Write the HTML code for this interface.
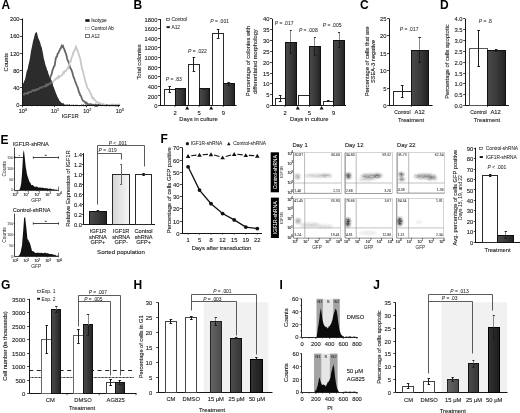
<!DOCTYPE html>
<html><head><meta charset="utf-8"><style>
html,body{margin:0;padding:0;background:#fff;}
svg{display:block;}
text{font-family:'Liberation Sans', Arial, sans-serif;}
</style></head><body>
<svg width="520" height="413" viewBox="0 0 520 413" font-family="'Liberation Sans', Arial, sans-serif">
<defs>
<linearGradient id="gd" x1="0" x2="1" y1="0" y2="0"><stop offset="0" stop-color="#4a4a4a"/><stop offset="0.5" stop-color="#3a3a3a"/><stop offset="1" stop-color="#222"/></linearGradient>
<linearGradient id="gl" x1="0" x2="1" y1="0" y2="0"><stop offset="0" stop-color="#d6d6d6"/><stop offset="1" stop-color="#f6f6f6"/></linearGradient>
<linearGradient id="g15" x1="0" x2="1"><stop offset="0" stop-color="#666"/><stop offset="1" stop-color="#4a4a4a"/></linearGradient>
<linearGradient id="g25" x1="0" x2="1"><stop offset="0" stop-color="#4d4d4d"/><stop offset="1" stop-color="#353535"/></linearGradient>
<linearGradient id="g50" x1="0" x2="1"><stop offset="0" stop-color="#333"/><stop offset="1" stop-color="#1c1c1c"/></linearGradient>
<filter id="bl1" x="-50%" y="-50%" width="200%" height="200%"><feGaussianBlur stdDeviation="1.2"/></filter>
<filter id="grain" x="-20%" y="-50%" width="140%" height="200%"><feGaussianBlur in="SourceGraphic" stdDeviation="1.1" result="b"/><feTurbulence type="fractalNoise" baseFrequency="0.8" numOctaves="1" seed="7" result="n"/><feColorMatrix in="n" type="matrix" values="0 0 0 0 0  0 0 0 0 0  0 0 0 0 0  2.0 0 0 0 -0.05" result="na"/><feComposite in="b" in2="na" operator="in"/></filter>
<filter id="bl2" x="-50%" y="-50%" width="200%" height="200%"><feGaussianBlur stdDeviation="0.8"/></filter>
</defs>
<rect width="520" height="413" fill="#fff"/>
<text x="1.5" y="8.6" font-size="12" font-weight="bold" fill="#000">A</text>
<path d="M44.00,104.50 L44.67,101.93 L45.33,99.95 L46.00,97.47 L46.67,94.27 L47.33,91.37 L48.00,88.10 L48.77,84.13 L49.53,81.67 L50.30,77.51 L51.03,75.30 L51.77,73.87 L52.50,70.27 L53.23,68.35 L53.97,66.36 L54.70,65.61 L55.60,59.19 L56.27,57.19 L56.95,56.75 L57.62,53.84 L58.30,53.25 L59.15,51.13 L60.00,49.54 L60.90,48.02 L61.80,45.73 L62.40,46.68 L63.00,46.06 L63.60,47.83 L64.45,49.62 L65.30,52.14 L66.20,54.27 L67.10,58.40 L67.75,60.67 L68.40,61.25 L69.05,63.64 L69.70,66.00 L70.38,68.20 L71.05,69.04 L71.73,70.71 L72.40,72.60 L73.05,75.19 L73.70,77.41 L74.35,78.83 L75.00,80.79 L75.67,82.58 L76.35,84.26 L77.03,86.12 L77.70,87.33 L78.35,89.75 L79.00,92.26 L79.65,93.11 L80.30,95.40 L80.97,95.81 L81.65,98.01 L82.33,99.46 L83.00,100.68 L83.63,100.93 L84.26,101.37 L84.89,102.13 L85.51,103.04 L86.14,102.34 L86.77,102.75 L87.40,104.30 L88.06,104.72 L88.71,104.24 L89.37,104.28 L90.03,104.88 L90.69,104.18 L91.34,104.47 L92.00,104.52 L92.62,105.15 L93.23,104.73 L93.85,104.62 L94.46,105.37 L95.08,105.80 L95.69,104.77 L96.31,105.44 L96.92,104.98 L97.54,105.70 L98.15,105.29 L98.77,104.80 L99.38,104.73 L100.00,105.20 " fill="none" stroke="#666" stroke-width="1.8" />
<path d="M22.50,94.44 L23.20,94.58 L23.90,94.76 L24.60,93.38 L25.30,93.48 L26.00,93.20 L26.67,93.85 L27.33,92.89 L28.00,93.39 L28.67,91.90 L29.33,91.96 L30.00,92.27 L30.67,92.44 L31.33,91.41 L32.00,90.76 L32.67,90.32 L33.33,90.80 L34.00,89.94 L34.67,90.80 L35.33,90.61 L36.00,89.18 L36.67,89.10 L37.33,89.80 L38.00,89.26 L38.70,89.25 L39.40,88.12 L40.10,87.43 L40.80,87.43 L41.50,88.03 L42.20,86.83 L42.90,86.70 L43.60,86.57 L44.30,86.32 L45.00,86.04 L45.62,86.56 L46.25,84.78 L46.88,84.11 L47.50,85.40 L48.12,84.88 L48.75,84.68 L49.38,83.28 L50.00,83.81 L50.63,83.44 L51.27,81.83 L51.90,82.44 L52.53,82.27 L53.17,81.63 L53.80,81.03 L54.40,80.12 L55.00,79.71 L55.60,79.01 L56.20,78.22 L56.80,78.66 L57.40,77.62 L58.00,78.06 L58.67,76.17 L59.34,77.20 L60.01,76.31 L60.69,76.21 L61.36,75.64 L62.03,75.13 L62.70,74.04 L63.36,72.34 L64.02,72.98 L64.68,71.27 L65.34,70.82 L66.00,70.79 L66.67,69.61 L67.33,68.48 L68.00,68.49 L68.67,66.34 L69.33,64.28 L70.00,62.55 L70.75,61.15 L71.50,57.96 L72.25,56.51 L73.00,53.73 L73.60,51.91 L74.20,50.96 L75.05,49.72 L75.90,46.81 L76.80,49.23 L77.70,50.76 L78.60,53.65 L79.50,56.78 L80.25,58.71 L81.00,63.23 L82.10,69.25 L82.77,70.44 L83.45,73.49 L84.12,76.13 L84.80,79.25 L85.65,81.96 L86.50,84.95 L87.40,87.90 L88.30,88.90 L89.03,90.40 L89.77,91.93 L90.50,93.32 L91.23,94.46 L91.97,97.32 L92.70,98.34 L93.47,97.89 L94.23,99.57 L95.00,100.17 L95.60,100.67 L96.20,101.23 L96.80,102.26 L97.40,102.66 L98.00,102.75 L98.67,102.71 L99.33,103.23 L100.00,103.12 L100.67,104.17 L101.33,104.72 L102.00,104.38 L102.60,103.90 L103.20,104.14 L103.80,104.55 L104.40,105.03 L105.00,105.41 L105.60,104.74 L106.20,105.56 L106.80,105.30 L107.40,105.02 L108.00,104.97 L108.60,105.19 L109.20,105.57 L109.80,105.06 L110.40,105.55 L111.00,105.13 L111.60,104.74 L112.20,105.26 L112.80,105.55 L113.40,104.43 L114.00,105.06 L114.60,105.07 L115.20,105.88 L115.80,105.99 L116.40,104.97 L117.00,105.92 L117.60,105.72 L118.20,104.77 L118.80,105.14 L119.40,104.52 L120.00,105.20 " fill="none" stroke="#c8c8c8" stroke-width="1.8" />
<path d="M22.4,105.2 L22.40,84.83 L23.50,83.08 L24.25,80.92 L25.00,79.49 L25.67,76.83 L26.33,73.12 L27.00,70.32 L27.67,69.14 L28.33,65.43 L29.00,62.72 L30.00,57.89 L31.00,51.05 L32.00,46.61 L33.10,41.06 L34.00,37.75 L35.10,33.37 L35.80,32.74 L36.50,31.66 L37.30,34.04 L38.10,37.53 L39.00,39.81 L40.10,42.32 L40.90,45.51 L41.70,47.16 L42.40,50.74 L43.10,54.36 L43.77,58.52 L44.43,60.48 L45.10,63.59 L45.77,65.88 L46.43,67.59 L47.10,69.96 L47.77,71.04 L48.43,73.81 L49.10,75.20 L49.80,77.75 L50.50,79.32 L51.20,79.58 L51.87,81.31 L52.53,83.12 L53.20,86.14 L53.87,87.19 L54.53,89.53 L55.20,90.94 L55.87,93.01 L56.53,94.49 L57.20,96.13 L57.90,97.65 L58.60,98.75 L59.30,100.43 L60.00,101.13 L60.65,102.12 L61.30,102.54 L61.95,103.33 L62.60,103.31 L63.28,102.65 L63.96,104.17 L64.64,104.62 L65.32,104.77 L66.00,104.42 L66.62,104.77 L67.25,103.96 L67.88,105.16 L68.50,104.78 L69.12,104.35 L69.75,104.04 L70.38,105.55 L71.00,105.88 L71.60,104.26 L72.21,105.55 L72.81,104.85 L73.42,104.38 L74.02,104.64 L74.63,105.50 L75.23,105.69 L75.84,104.20 L76.44,105.23 L77.05,104.21 L77.65,105.42 L78.26,104.73 L78.86,105.72 L79.47,105.90 L80.07,105.05 L80.68,105.94 L81.28,104.70 L81.89,104.28 L82.49,105.23 L83.10,104.21 L83.70,104.51 L84.31,104.89 L84.91,105.26 L85.52,104.44 L86.12,104.24 L86.73,105.73 L87.33,104.73 L87.94,105.89 L88.54,105.79 L89.15,104.85 L89.75,105.01 L90.36,105.12 L90.96,105.34 L91.57,105.26 L92.17,105.19 L92.78,105.31 L93.38,105.88 L93.99,105.11 L94.59,104.97 L95.20,105.50 L95.80,104.63 L96.41,104.75 L97.01,105.97 L97.62,105.15 L98.22,105.20 L98.83,104.23 L99.43,104.96 L100.04,105.26 L100.64,104.26 L101.25,105.33 L101.85,105.36 L102.46,104.34 L103.06,105.36 L103.67,105.07 L104.27,105.46 L104.88,104.87 L105.48,105.51 L106.09,105.57 L106.69,104.29 L107.30,104.36 L107.90,105.47 L108.51,105.99 L109.11,104.71 L109.72,105.08 L110.32,105.33 L110.93,104.84 L111.53,104.92 L112.14,104.83 L112.74,104.93 L113.35,105.34 L113.95,104.82 L114.56,104.96 L115.16,105.67 L115.77,104.33 L116.37,105.31 L116.98,105.61 L117.58,104.85 L118.19,104.69 L118.79,105.74 L119.40,104.73 L120.00,105.20  L22.4,105.2 Z" fill="#2c2c2c" />
<clipPath id="isoclip"><path d="M22.4,105.2 L22.40,84.83 L23.50,83.08 L24.25,80.92 L25.00,79.49 L25.67,76.83 L26.33,73.12 L27.00,70.32 L27.67,69.14 L28.33,65.43 L29.00,62.72 L30.00,57.89 L31.00,51.05 L32.00,46.61 L33.10,41.06 L34.00,37.75 L35.10,33.37 L35.80,32.74 L36.50,31.66 L37.30,34.04 L38.10,37.53 L39.00,39.81 L40.10,42.32 L40.90,45.51 L41.70,47.16 L42.40,50.74 L43.10,54.36 L43.77,58.52 L44.43,60.48 L45.10,63.59 L45.77,65.88 L46.43,67.59 L47.10,69.96 L47.77,71.04 L48.43,73.81 L49.10,75.20 L49.80,77.75 L50.50,79.32 L51.20,79.58 L51.87,81.31 L52.53,83.12 L53.20,86.14 L53.87,87.19 L54.53,89.53 L55.20,90.94 L55.87,93.01 L56.53,94.49 L57.20,96.13 L57.90,97.65 L58.60,98.75 L59.30,100.43 L60.00,101.13 L60.65,102.12 L61.30,102.54 L61.95,103.33 L62.60,103.31 L63.28,102.65 L63.96,104.17 L64.64,104.62 L65.32,104.77 L66.00,104.42 L66.62,104.77 L67.25,103.96 L67.88,105.16 L68.50,104.78 L69.12,104.35 L69.75,104.04 L70.38,105.55 L71.00,105.88 L71.60,104.26 L72.21,105.55 L72.81,104.85 L73.42,104.38 L74.02,104.64 L74.63,105.50 L75.23,105.69 L75.84,104.20 L76.44,105.23 L77.05,104.21 L77.65,105.42 L78.26,104.73 L78.86,105.72 L79.47,105.90 L80.07,105.05 L80.68,105.94 L81.28,104.70 L81.89,104.28 L82.49,105.23 L83.10,104.21 L83.70,104.51 L84.31,104.89 L84.91,105.26 L85.52,104.44 L86.12,104.24 L86.73,105.73 L87.33,104.73 L87.94,105.89 L88.54,105.79 L89.15,104.85 L89.75,105.01 L90.36,105.12 L90.96,105.34 L91.57,105.26 L92.17,105.19 L92.78,105.31 L93.38,105.88 L93.99,105.11 L94.59,104.97 L95.20,105.50 L95.80,104.63 L96.41,104.75 L97.01,105.97 L97.62,105.15 L98.22,105.20 L98.83,104.23 L99.43,104.96 L100.04,105.26 L100.64,104.26 L101.25,105.33 L101.85,105.36 L102.46,104.34 L103.06,105.36 L103.67,105.07 L104.27,105.46 L104.88,104.87 L105.48,105.51 L106.09,105.57 L106.69,104.29 L107.30,104.36 L107.90,105.47 L108.51,105.99 L109.11,104.71 L109.72,105.08 L110.32,105.33 L110.93,104.84 L111.53,104.92 L112.14,104.83 L112.74,104.93 L113.35,105.34 L113.95,104.82 L114.56,104.96 L115.16,105.67 L115.77,104.33 L116.37,105.31 L116.98,105.61 L117.58,104.85 L118.19,104.69 L118.79,105.74 L119.40,104.73 L120.00,105.20  L22.4,105.2 Z"/></clipPath>
<path d="M22.50,94.44 L23.20,94.58 L23.90,94.76 L24.60,93.38 L25.30,93.48 L26.00,93.20 L26.67,93.85 L27.33,92.89 L28.00,93.39 L28.67,91.90 L29.33,91.96 L30.00,92.27 L30.67,92.44 L31.33,91.41 L32.00,90.76 L32.67,90.32 L33.33,90.80 L34.00,89.94 L34.67,90.80 L35.33,90.61 L36.00,89.18 L36.67,89.10 L37.33,89.80 L38.00,89.26 L38.70,89.25 L39.40,88.12 L40.10,87.43 L40.80,87.43 L41.50,88.03 L42.20,86.83 L42.90,86.70 L43.60,86.57 L44.30,86.32 L45.00,86.04 L45.62,86.56 L46.25,84.78 L46.88,84.11 L47.50,85.40 L48.12,84.88 L48.75,84.68 L49.38,83.28 L50.00,83.81 L50.63,83.44 L51.27,81.83 L51.90,82.44 L52.53,82.27 L53.17,81.63 L53.80,81.03 L54.40,80.12 L55.00,79.71 L55.60,79.01 L56.20,78.22 L56.80,78.66 L57.40,77.62 L58.00,78.06 L58.67,76.17 L59.34,77.20 L60.01,76.31 L60.69,76.21 L61.36,75.64 L62.03,75.13 L62.70,74.04 L63.36,72.34 L64.02,72.98 L64.68,71.27 L65.34,70.82 L66.00,70.79 L66.67,69.61 L67.33,68.48 L68.00,68.49 L68.67,66.34 L69.33,64.28 L70.00,62.55 L70.75,61.15 L71.50,57.96 L72.25,56.51 L73.00,53.73 L73.60,51.91 L74.20,50.96 L75.05,49.72 L75.90,46.81 L76.80,49.23 L77.70,50.76 L78.60,53.65 L79.50,56.78 L80.25,58.71 L81.00,63.23 L82.10,69.25 L82.77,70.44 L83.45,73.49 L84.12,76.13 L84.80,79.25 L85.65,81.96 L86.50,84.95 L87.40,87.90 L88.30,88.90 L89.03,90.40 L89.77,91.93 L90.50,93.32 L91.23,94.46 L91.97,97.32 L92.70,98.34 L93.47,97.89 L94.23,99.57 L95.00,100.17 L95.60,100.67 L96.20,101.23 L96.80,102.26 L97.40,102.66 L98.00,102.75 L98.67,102.71 L99.33,103.23 L100.00,103.12 L100.67,104.17 L101.33,104.72 L102.00,104.38 L102.60,103.90 L103.20,104.14 L103.80,104.55 L104.40,105.03 L105.00,105.41 L105.60,104.74 L106.20,105.56 L106.80,105.30 L107.40,105.02 L108.00,104.97 L108.60,105.19 L109.20,105.57 L109.80,105.06 L110.40,105.55 L111.00,105.13 L111.60,104.74 L112.20,105.26 L112.80,105.55 L113.40,104.43 L114.00,105.06 L114.60,105.07 L115.20,105.88 L115.80,105.99 L116.40,104.97 L117.00,105.92 L117.60,105.72 L118.20,104.77 L118.80,105.14 L119.40,104.52 L120.00,105.20 " fill="none" stroke="#6a6a6a" stroke-width="1.6" clip-path="url(#isoclip)"/>
<line x1="22.50" y1="18.60" x2="22.50" y2="105.20" stroke="#151515" stroke-width="1.0"/>
<line x1="22.00" y1="105.50" x2="120.00" y2="105.50" stroke="#151515" stroke-width="1.0"/>
<line x1="20.00" y1="105.50" x2="22.00" y2="105.50" stroke="#151515" stroke-width="0.8"/>
<text x="19.60" y="107.29" font-size="5.8" text-anchor="end" fill="#1e1e1e" stroke="#1e1e1e" stroke-width="0.12">0</text>
<line x1="20.00" y1="87.50" x2="22.00" y2="87.50" stroke="#151515" stroke-width="0.8"/>
<text x="19.60" y="90.05" font-size="5.8" text-anchor="end" fill="#1e1e1e" stroke="#1e1e1e" stroke-width="0.12">40</text>
<line x1="20.00" y1="70.50" x2="22.00" y2="70.50" stroke="#151515" stroke-width="0.8"/>
<text x="19.60" y="72.81" font-size="5.8" text-anchor="end" fill="#1e1e1e" stroke="#1e1e1e" stroke-width="0.12">80</text>
<line x1="20.00" y1="53.50" x2="22.00" y2="53.50" stroke="#151515" stroke-width="0.8"/>
<text x="19.60" y="55.57" font-size="5.8" text-anchor="end" fill="#1e1e1e" stroke="#1e1e1e" stroke-width="0.12">120</text>
<line x1="20.00" y1="36.50" x2="22.00" y2="36.50" stroke="#151515" stroke-width="0.8"/>
<text x="19.60" y="38.33" font-size="5.8" text-anchor="end" fill="#1e1e1e" stroke="#1e1e1e" stroke-width="0.12">160</text>
<line x1="20.00" y1="19.50" x2="22.00" y2="19.50" stroke="#151515" stroke-width="0.8"/>
<text x="19.60" y="21.09" font-size="5.8" text-anchor="end" fill="#1e1e1e" stroke="#1e1e1e" stroke-width="0.12">200</text>
<line x1="22.50" y1="105.20" x2="22.50" y2="107.20" stroke="#151515" stroke-width="0.8"/>
<text x="22.80" y="113.14" font-size="5.4" fill="#1e1e1e" stroke="#1e1e1e" stroke-width="0.12" text-anchor="middle">10<tspan font-size="3.78" dy="-2.16">0</tspan></text>
<line x1="31.72" y1="105.20" x2="31.72" y2="106.30" stroke="#151515" stroke-width="0.5"/>
<line x1="37.41" y1="105.20" x2="37.41" y2="106.30" stroke="#151515" stroke-width="0.5"/>
<line x1="41.45" y1="105.20" x2="41.45" y2="106.30" stroke="#151515" stroke-width="0.5"/>
<line x1="44.58" y1="105.20" x2="44.58" y2="106.30" stroke="#151515" stroke-width="0.5"/>
<line x1="47.13" y1="105.20" x2="47.13" y2="106.30" stroke="#151515" stroke-width="0.5"/>
<line x1="49.30" y1="105.20" x2="49.30" y2="106.30" stroke="#151515" stroke-width="0.5"/>
<line x1="51.17" y1="105.20" x2="51.17" y2="106.30" stroke="#151515" stroke-width="0.5"/>
<line x1="52.82" y1="105.20" x2="52.82" y2="106.30" stroke="#151515" stroke-width="0.5"/>
<line x1="54.50" y1="105.20" x2="54.50" y2="107.20" stroke="#151515" stroke-width="0.8"/>
<text x="55.10" y="113.14" font-size="5.4" fill="#1e1e1e" stroke="#1e1e1e" stroke-width="0.12" text-anchor="middle">10<tspan font-size="3.78" dy="-2.16">1</tspan></text>
<line x1="64.02" y1="105.20" x2="64.02" y2="106.30" stroke="#151515" stroke-width="0.5"/>
<line x1="69.71" y1="105.20" x2="69.71" y2="106.30" stroke="#151515" stroke-width="0.5"/>
<line x1="73.75" y1="105.20" x2="73.75" y2="106.30" stroke="#151515" stroke-width="0.5"/>
<line x1="76.88" y1="105.20" x2="76.88" y2="106.30" stroke="#151515" stroke-width="0.5"/>
<line x1="79.43" y1="105.20" x2="79.43" y2="106.30" stroke="#151515" stroke-width="0.5"/>
<line x1="81.60" y1="105.20" x2="81.60" y2="106.30" stroke="#151515" stroke-width="0.5"/>
<line x1="83.47" y1="105.20" x2="83.47" y2="106.30" stroke="#151515" stroke-width="0.5"/>
<line x1="85.12" y1="105.20" x2="85.12" y2="106.30" stroke="#151515" stroke-width="0.5"/>
<line x1="86.50" y1="105.20" x2="86.50" y2="107.20" stroke="#151515" stroke-width="0.8"/>
<text x="87.40" y="113.14" font-size="5.4" fill="#1e1e1e" stroke="#1e1e1e" stroke-width="0.12" text-anchor="middle">10<tspan font-size="3.78" dy="-2.16">2</tspan></text>
<line x1="96.32" y1="105.20" x2="96.32" y2="106.30" stroke="#151515" stroke-width="0.5"/>
<line x1="102.01" y1="105.20" x2="102.01" y2="106.30" stroke="#151515" stroke-width="0.5"/>
<line x1="106.05" y1="105.20" x2="106.05" y2="106.30" stroke="#151515" stroke-width="0.5"/>
<line x1="109.18" y1="105.20" x2="109.18" y2="106.30" stroke="#151515" stroke-width="0.5"/>
<line x1="111.73" y1="105.20" x2="111.73" y2="106.30" stroke="#151515" stroke-width="0.5"/>
<line x1="113.90" y1="105.20" x2="113.90" y2="106.30" stroke="#151515" stroke-width="0.5"/>
<line x1="115.77" y1="105.20" x2="115.77" y2="106.30" stroke="#151515" stroke-width="0.5"/>
<line x1="117.42" y1="105.20" x2="117.42" y2="106.30" stroke="#151515" stroke-width="0.5"/>
<line x1="118.50" y1="105.20" x2="118.50" y2="107.20" stroke="#151515" stroke-width="0.8"/>
<text x="119.70" y="113.14" font-size="5.4" fill="#1e1e1e" stroke="#1e1e1e" stroke-width="0.12" text-anchor="middle">10<tspan font-size="3.78" dy="-2.16">3</tspan></text>
<text transform="translate(6.20,62.20) rotate(-90)" x="0" y="2.09" font-size="5.8" text-anchor="middle" fill="#1e1e1e" stroke="#1e1e1e" stroke-width="0.12">Counts</text>
<text x="70.20" y="118.49" font-size="5.8" text-anchor="middle" fill="#1e1e1e" stroke="#1e1e1e" stroke-width="0.12">IGF1R</text>
<rect x="85.30" y="19.20" width="4.30" height="2.60" fill="#111"/>
<text x="91.20" y="22.15" font-size="4.85" fill="#1e1e1e" stroke="#1e1e1e" stroke-width="0.04">Isotype</text>
<rect x="85.50" y="27.50" width="4.00" height="2.00" fill="#fff" stroke="#aaa" stroke-width="0.6"/>
<text x="91.20" y="29.95" font-size="4.85" fill="#1e1e1e" stroke="#1e1e1e" stroke-width="0.04">Control Ab</text>
<rect x="85.50" y="34.50" width="4.00" height="3.00" fill="#fff" stroke="#555" stroke-width="0.8"/>
<text x="91.20" y="37.65" font-size="4.85" fill="#1e1e1e" stroke="#1e1e1e" stroke-width="0.04">A12</text>
<text x="133.5" y="8.6" font-size="12" font-weight="bold" fill="#000">B</text>
<line x1="160.50" y1="19.00" x2="160.50" y2="105.60" stroke="#151515" stroke-width="1.0"/>
<line x1="158.00" y1="105.50" x2="160.00" y2="105.50" stroke="#151515" stroke-width="0.8"/>
<text x="157.40" y="108.19" font-size="5.8" text-anchor="end" fill="#1e1e1e" stroke="#1e1e1e" stroke-width="0.12">0</text>
<line x1="158.00" y1="95.50" x2="160.00" y2="95.50" stroke="#151515" stroke-width="0.8"/>
<text x="157.40" y="98.57" font-size="5.8" text-anchor="end" fill="#1e1e1e" stroke="#1e1e1e" stroke-width="0.12">200</text>
<line x1="158.00" y1="86.50" x2="160.00" y2="86.50" stroke="#151515" stroke-width="0.8"/>
<text x="157.40" y="88.94" font-size="5.8" text-anchor="end" fill="#1e1e1e" stroke="#1e1e1e" stroke-width="0.12">400</text>
<line x1="158.00" y1="76.50" x2="160.00" y2="76.50" stroke="#151515" stroke-width="0.8"/>
<text x="157.40" y="79.32" font-size="5.8" text-anchor="end" fill="#1e1e1e" stroke="#1e1e1e" stroke-width="0.12">600</text>
<line x1="158.00" y1="67.50" x2="160.00" y2="67.50" stroke="#151515" stroke-width="0.8"/>
<text x="157.40" y="69.70" font-size="5.8" text-anchor="end" fill="#1e1e1e" stroke="#1e1e1e" stroke-width="0.12">800</text>
<line x1="158.00" y1="57.50" x2="160.00" y2="57.50" stroke="#151515" stroke-width="0.8"/>
<text x="157.40" y="60.08" font-size="5.8" text-anchor="end" fill="#1e1e1e" stroke="#1e1e1e" stroke-width="0.12">1000</text>
<line x1="158.00" y1="47.50" x2="160.00" y2="47.50" stroke="#151515" stroke-width="0.8"/>
<text x="157.40" y="50.45" font-size="5.8" text-anchor="end" fill="#1e1e1e" stroke="#1e1e1e" stroke-width="0.12">1200</text>
<line x1="158.00" y1="38.50" x2="160.00" y2="38.50" stroke="#151515" stroke-width="0.8"/>
<text x="157.40" y="40.83" font-size="5.8" text-anchor="end" fill="#1e1e1e" stroke="#1e1e1e" stroke-width="0.12">1400</text>
<line x1="158.00" y1="28.50" x2="160.00" y2="28.50" stroke="#151515" stroke-width="0.8"/>
<text x="157.40" y="31.21" font-size="5.8" text-anchor="end" fill="#1e1e1e" stroke="#1e1e1e" stroke-width="0.12">1600</text>
<line x1="158.00" y1="19.50" x2="160.00" y2="19.50" stroke="#151515" stroke-width="0.8"/>
<text x="157.40" y="21.59" font-size="5.8" text-anchor="end" fill="#1e1e1e" stroke="#1e1e1e" stroke-width="0.12">1800</text>
<line x1="160.00" y1="105.50" x2="236.50" y2="105.50" stroke="#151515" stroke-width="1.0"/>
<rect x="164.50" y="89.50" width="11.00" height="16.00" fill="#fff" stroke="#2a2a2a" stroke-width="1.0"/>
<rect x="175.50" y="88.50" width="10.00" height="17.00" fill="url(#gd)" stroke="#111" stroke-width="1.0"/>
<rect x="188.50" y="64.50" width="11.00" height="41.00" fill="#fff" stroke="#2a2a2a" stroke-width="1.0"/>
<rect x="199.50" y="88.50" width="10.00" height="17.00" fill="url(#gd)" stroke="#111" stroke-width="1.0"/>
<rect x="212.50" y="33.50" width="11.00" height="72.00" fill="#fff" stroke="#2a2a2a" stroke-width="1.0"/>
<rect x="223.50" y="83.50" width="11.00" height="22.00" fill="url(#gd)" stroke="#111" stroke-width="1.0"/>
<line x1="169.50" y1="86.36" x2="169.50" y2="92.13" stroke="#1e1e1e" stroke-width="1.0"/>
<line x1="168.50" y1="86.50" x2="171.10" y2="86.50" stroke="#1e1e1e" stroke-width="1.0"/>
<line x1="168.50" y1="92.50" x2="171.10" y2="92.50" stroke="#1e1e1e" stroke-width="1.0"/>
<line x1="193.50" y1="57.97" x2="193.50" y2="71.44" stroke="#1e1e1e" stroke-width="1.0"/>
<line x1="192.60" y1="57.50" x2="195.20" y2="57.50" stroke="#1e1e1e" stroke-width="1.0"/>
<line x1="192.60" y1="71.50" x2="195.20" y2="71.50" stroke="#1e1e1e" stroke-width="1.0"/>
<line x1="218.50" y1="29.58" x2="218.50" y2="38.24" stroke="#1e1e1e" stroke-width="1.0"/>
<line x1="216.80" y1="29.50" x2="219.40" y2="29.50" stroke="#1e1e1e" stroke-width="1.0"/>
<line x1="216.80" y1="38.50" x2="219.40" y2="38.50" stroke="#1e1e1e" stroke-width="1.0"/>
<line x1="180.50" y1="88.28" x2="180.50" y2="89.24" stroke="#1e1e1e" stroke-width="1.0"/>
<line x1="179.20" y1="88.50" x2="181.60" y2="88.50" stroke="#1e1e1e" stroke-width="1.0"/>
<line x1="179.20" y1="89.50" x2="181.60" y2="89.50" stroke="#1e1e1e" stroke-width="1.0"/>
<line x1="204.50" y1="88.28" x2="204.50" y2="89.24" stroke="#1e1e1e" stroke-width="1.0"/>
<line x1="203.10" y1="88.50" x2="205.50" y2="88.50" stroke="#1e1e1e" stroke-width="1.0"/>
<line x1="203.10" y1="89.50" x2="205.50" y2="89.50" stroke="#1e1e1e" stroke-width="1.0"/>
<line x1="228.50" y1="82.51" x2="228.50" y2="85.39" stroke="#1e1e1e" stroke-width="1.0"/>
<line x1="227.50" y1="82.50" x2="229.90" y2="82.50" stroke="#1e1e1e" stroke-width="1.0"/>
<line x1="227.50" y1="85.50" x2="229.90" y2="85.50" stroke="#1e1e1e" stroke-width="1.0"/>
<path d="M185.20,109.40 L189.20,109.40 L187.20,106.00 Z" fill="#111" />
<path d="M209.20,109.40 L213.20,109.40 L211.20,106.00 Z" fill="#111" />
<line x1="175.00" y1="105.60" x2="175.00" y2="107.00" stroke="#151515" stroke-width="0.7"/>
<text x="175.00" y="114.69" font-size="5.8" text-anchor="middle" fill="#1e1e1e" stroke="#1e1e1e" stroke-width="0.12">2</text>
<line x1="199.00" y1="105.60" x2="199.00" y2="107.00" stroke="#151515" stroke-width="0.7"/>
<text x="199.00" y="114.69" font-size="5.8" text-anchor="middle" fill="#1e1e1e" stroke="#1e1e1e" stroke-width="0.12">5</text>
<line x1="223.30" y1="105.60" x2="223.30" y2="107.00" stroke="#151515" stroke-width="0.7"/>
<text x="223.30" y="114.69" font-size="5.8" text-anchor="middle" fill="#1e1e1e" stroke="#1e1e1e" stroke-width="0.12">9</text>
<text x="198.50" y="121.39" font-size="5.8" text-anchor="middle" fill="#1e1e1e" stroke="#1e1e1e" stroke-width="0.12">Days in culture</text>
<text transform="translate(138.80,62.00) rotate(-90)" x="0" y="2.09" font-size="5.8" text-anchor="middle" fill="#1e1e1e" stroke="#1e1e1e" stroke-width="0.12">Total colonies</text>
<rect x="166.50" y="18.50" width="3.00" height="2.00" fill="#fff" stroke="#333" stroke-width="0.6"/>
<text x="171.40" y="21.26" font-size="4.9" fill="#1e1e1e" stroke="#1e1e1e" stroke-width="0.04">Control</text>
<rect x="166.60" y="26.20" width="3.20" height="1.90" fill="#111"/>
<text x="171.40" y="28.96" font-size="4.9" fill="#1e1e1e" stroke="#1e1e1e" stroke-width="0.04">A12</text>
<text x="165.80" y="81.00" font-size="5.0" fill="#2a2a2a" stroke="#2a2a2a" stroke-width="0.05" text-anchor="start"><tspan font-style="italic">P</tspan> = .83</text>
<text x="188.00" y="52.60" font-size="5.0" fill="#2a2a2a" stroke="#2a2a2a" stroke-width="0.05" text-anchor="start"><tspan font-style="italic">P</tspan> = .022</text>
<text x="210.20" y="23.00" font-size="5.0" fill="#2a2a2a" stroke="#2a2a2a" stroke-width="0.05" text-anchor="start"><tspan font-style="italic">P</tspan> = .001</text>
<line x1="272.50" y1="18.80" x2="272.50" y2="105.60" stroke="#151515" stroke-width="1.0"/>
<line x1="270.00" y1="105.50" x2="272.00" y2="105.50" stroke="#151515" stroke-width="0.8"/>
<text x="269.40" y="108.19" font-size="5.8" text-anchor="end" fill="#1e1e1e" stroke="#1e1e1e" stroke-width="0.12">0</text>
<line x1="270.00" y1="94.50" x2="272.00" y2="94.50" stroke="#151515" stroke-width="0.8"/>
<text x="269.40" y="97.34" font-size="5.8" text-anchor="end" fill="#1e1e1e" stroke="#1e1e1e" stroke-width="0.12">5</text>
<line x1="270.00" y1="83.50" x2="272.00" y2="83.50" stroke="#151515" stroke-width="0.8"/>
<text x="269.40" y="86.49" font-size="5.8" text-anchor="end" fill="#1e1e1e" stroke="#1e1e1e" stroke-width="0.12">10</text>
<line x1="270.00" y1="73.50" x2="272.00" y2="73.50" stroke="#151515" stroke-width="0.8"/>
<text x="269.40" y="75.64" font-size="5.8" text-anchor="end" fill="#1e1e1e" stroke="#1e1e1e" stroke-width="0.12">15</text>
<line x1="270.00" y1="62.50" x2="272.00" y2="62.50" stroke="#151515" stroke-width="0.8"/>
<text x="269.40" y="64.79" font-size="5.8" text-anchor="end" fill="#1e1e1e" stroke="#1e1e1e" stroke-width="0.12">20</text>
<line x1="270.00" y1="51.50" x2="272.00" y2="51.50" stroke="#151515" stroke-width="0.8"/>
<text x="269.40" y="53.94" font-size="5.8" text-anchor="end" fill="#1e1e1e" stroke="#1e1e1e" stroke-width="0.12">25</text>
<line x1="270.00" y1="40.50" x2="272.00" y2="40.50" stroke="#151515" stroke-width="0.8"/>
<text x="269.40" y="43.09" font-size="5.8" text-anchor="end" fill="#1e1e1e" stroke="#1e1e1e" stroke-width="0.12">30</text>
<line x1="270.00" y1="29.50" x2="272.00" y2="29.50" stroke="#151515" stroke-width="0.8"/>
<text x="269.40" y="32.24" font-size="5.8" text-anchor="end" fill="#1e1e1e" stroke="#1e1e1e" stroke-width="0.12">35</text>
<line x1="270.00" y1="18.50" x2="272.00" y2="18.50" stroke="#151515" stroke-width="0.8"/>
<text x="269.40" y="21.39" font-size="5.8" text-anchor="end" fill="#1e1e1e" stroke="#1e1e1e" stroke-width="0.12">40</text>
<line x1="272.00" y1="105.50" x2="346.00" y2="105.50" stroke="#151515" stroke-width="1.0"/>
<rect x="275.50" y="98.50" width="10.00" height="7.00" fill="#fff" stroke="#2a2a2a" stroke-width="1.0"/>
<rect x="285.50" y="42.50" width="11.00" height="63.00" fill="url(#gd)" stroke="#111" stroke-width="1.0"/>
<rect x="298.50" y="95.50" width="11.00" height="10.00" fill="#fff" stroke="#2a2a2a" stroke-width="1.0"/>
<rect x="309.50" y="46.50" width="11.00" height="59.00" fill="url(#gd)" stroke="#111" stroke-width="1.0"/>
<rect x="323.50" y="101.50" width="10.00" height="4.00" fill="#fff" stroke="#2a2a2a" stroke-width="1.0"/>
<rect x="333.50" y="40.50" width="11.00" height="65.00" fill="url(#gd)" stroke="#111" stroke-width="1.0"/>
<line x1="280.50" y1="95.62" x2="280.50" y2="101.26" stroke="#1e1e1e" stroke-width="1.0"/>
<line x1="278.90" y1="95.50" x2="281.50" y2="95.50" stroke="#1e1e1e" stroke-width="1.0"/>
<line x1="278.90" y1="101.50" x2="281.50" y2="101.50" stroke="#1e1e1e" stroke-width="1.0"/>
<line x1="290.50" y1="30.95" x2="290.50" y2="42.02" stroke="#8a8a8a" stroke-width="1.0"/>
<line x1="289.80" y1="30.50" x2="291.80" y2="30.50" stroke="#333" stroke-width="1.0"/>
<line x1="290.50" y1="42.02" x2="290.50" y2="53.09" stroke="#1a1a1a" stroke-width="1.0"/>
<line x1="289.80" y1="53.50" x2="291.80" y2="53.50" stroke="#1a1a1a" stroke-width="1.0"/>
<line x1="314.50" y1="37.46" x2="314.50" y2="46.36" stroke="#8a8a8a" stroke-width="1.0"/>
<line x1="313.90" y1="37.50" x2="315.90" y2="37.50" stroke="#333" stroke-width="1.0"/>
<line x1="314.50" y1="46.36" x2="314.50" y2="55.04" stroke="#1a1a1a" stroke-width="1.0"/>
<line x1="313.90" y1="55.50" x2="315.90" y2="55.50" stroke="#1a1a1a" stroke-width="1.0"/>
<line x1="339.50" y1="32.91" x2="339.50" y2="40.07" stroke="#8a8a8a" stroke-width="1.0"/>
<line x1="338.00" y1="32.50" x2="340.00" y2="32.50" stroke="#333" stroke-width="1.0"/>
<line x1="339.50" y1="40.07" x2="339.50" y2="47.44" stroke="#1a1a1a" stroke-width="1.0"/>
<line x1="338.00" y1="47.50" x2="340.00" y2="47.50" stroke="#1a1a1a" stroke-width="1.0"/>
<line x1="328.50" y1="100.83" x2="328.50" y2="101.69" stroke="#1e1e1e" stroke-width="1.0"/>
<line x1="327.10" y1="100.50" x2="329.50" y2="100.50" stroke="#1e1e1e" stroke-width="1.0"/>
<line x1="327.10" y1="101.50" x2="329.50" y2="101.50" stroke="#1e1e1e" stroke-width="1.0"/>
<path d="M295.80,109.40 L299.80,109.40 L297.80,106.00 Z" fill="#111" />
<path d="M319.60,109.40 L323.60,109.40 L321.60,106.00 Z" fill="#111" />
<line x1="285.20" y1="105.60" x2="285.20" y2="107.00" stroke="#151515" stroke-width="0.7"/>
<text x="285.20" y="114.99" font-size="5.8" text-anchor="middle" fill="#1e1e1e" stroke="#1e1e1e" stroke-width="0.12">2</text>
<line x1="309.40" y1="105.60" x2="309.40" y2="107.00" stroke="#151515" stroke-width="0.7"/>
<text x="309.40" y="114.99" font-size="5.8" text-anchor="middle" fill="#1e1e1e" stroke="#1e1e1e" stroke-width="0.12">5</text>
<line x1="333.60" y1="105.60" x2="333.60" y2="107.00" stroke="#151515" stroke-width="0.7"/>
<text x="333.60" y="114.99" font-size="5.8" text-anchor="middle" fill="#1e1e1e" stroke="#1e1e1e" stroke-width="0.12">9</text>
<text x="309.20" y="121.39" font-size="5.8" text-anchor="middle" fill="#1e1e1e" stroke="#1e1e1e" stroke-width="0.12">Days in culture</text>
<text transform="translate(247.90,61.05) rotate(-90)" x="0" y="2.07" font-size="5.75" text-anchor="middle" fill="#1e1e1e" stroke="#1e1e1e" stroke-width="0.12">Percentage of colonies with</text>
<text transform="translate(254.80,61.65) rotate(-90)" x="0" y="2.07" font-size="5.75" text-anchor="middle" fill="#1e1e1e" stroke="#1e1e1e" stroke-width="0.12">differentiated morphology</text>
<text x="274.70" y="25.40" font-size="5.0" fill="#2a2a2a" stroke="#2a2a2a" stroke-width="0.05" text-anchor="start"><tspan font-style="italic">P</tspan> = .017</text>
<text x="298.90" y="31.80" font-size="5.0" fill="#2a2a2a" stroke="#2a2a2a" stroke-width="0.05" text-anchor="start"><tspan font-style="italic">P</tspan> = .008</text>
<text x="322.70" y="27.00" font-size="5.0" fill="#2a2a2a" stroke="#2a2a2a" stroke-width="0.05" text-anchor="start"><tspan font-style="italic">P</tspan> = .005</text>
<text x="360.0" y="9.0" font-size="12" font-weight="bold" fill="#000">C</text>
<line x1="389.50" y1="18.40" x2="389.50" y2="105.60" stroke="#151515" stroke-width="1.0"/>
<line x1="387.00" y1="105.50" x2="389.00" y2="105.50" stroke="#151515" stroke-width="0.8"/>
<text x="386.40" y="108.19" font-size="5.8" text-anchor="end" fill="#1e1e1e" stroke="#1e1e1e" stroke-width="0.12">0</text>
<line x1="387.00" y1="88.50" x2="389.00" y2="88.50" stroke="#151515" stroke-width="0.8"/>
<text x="386.40" y="90.75" font-size="5.8" text-anchor="end" fill="#1e1e1e" stroke="#1e1e1e" stroke-width="0.12">5</text>
<line x1="387.00" y1="70.50" x2="389.00" y2="70.50" stroke="#151515" stroke-width="0.8"/>
<text x="386.40" y="73.31" font-size="5.8" text-anchor="end" fill="#1e1e1e" stroke="#1e1e1e" stroke-width="0.12">10</text>
<line x1="387.00" y1="53.50" x2="389.00" y2="53.50" stroke="#151515" stroke-width="0.8"/>
<text x="386.40" y="55.87" font-size="5.8" text-anchor="end" fill="#1e1e1e" stroke="#1e1e1e" stroke-width="0.12">15</text>
<line x1="387.00" y1="35.50" x2="389.00" y2="35.50" stroke="#151515" stroke-width="0.8"/>
<text x="386.40" y="38.43" font-size="5.8" text-anchor="end" fill="#1e1e1e" stroke="#1e1e1e" stroke-width="0.12">20</text>
<line x1="387.00" y1="18.50" x2="389.00" y2="18.50" stroke="#151515" stroke-width="0.8"/>
<text x="386.40" y="20.99" font-size="5.8" text-anchor="end" fill="#1e1e1e" stroke="#1e1e1e" stroke-width="0.12">25</text>
<line x1="389.00" y1="105.50" x2="432.60" y2="105.50" stroke="#151515" stroke-width="1.0"/>
<rect x="393.50" y="91.50" width="18.00" height="14.00" fill="#fff" stroke="#2a2a2a" stroke-width="1.0"/>
<rect x="411.50" y="50.50" width="17.00" height="55.00" fill="url(#gd)" stroke="#111" stroke-width="1.0"/>
<line x1="402.50" y1="85.37" x2="402.50" y2="97.93" stroke="#1e1e1e" stroke-width="1.0"/>
<line x1="400.90" y1="85.50" x2="403.50" y2="85.50" stroke="#1e1e1e" stroke-width="1.0"/>
<line x1="400.90" y1="97.50" x2="403.50" y2="97.50" stroke="#1e1e1e" stroke-width="1.0"/>
<line x1="419.50" y1="37.24" x2="419.50" y2="50.14" stroke="#8a8a8a" stroke-width="1.0"/>
<line x1="418.30" y1="37.50" x2="421.10" y2="37.50" stroke="#333" stroke-width="1.0"/>
<line x1="419.50" y1="50.14" x2="419.50" y2="62.35" stroke="#1a1a1a" stroke-width="1.0"/>
<line x1="418.30" y1="62.50" x2="421.10" y2="62.50" stroke="#1a1a1a" stroke-width="1.0"/>
<line x1="411.30" y1="105.60" x2="411.30" y2="107.00" stroke="#151515" stroke-width="0.7"/>
<text x="402.45" y="113.92" font-size="5.6" text-anchor="middle" fill="#1e1e1e" stroke="#1e1e1e" stroke-width="0.12" textLength="16.2" lengthAdjust="spacingAndGlyphs">Control</text>
<text x="419.70" y="113.99" font-size="5.8" text-anchor="middle" fill="#1e1e1e" stroke="#1e1e1e" stroke-width="0.12">A12</text>
<text x="411.00" y="122.49" font-size="5.8" text-anchor="middle" fill="#1e1e1e" stroke="#1e1e1e" stroke-width="0.12">Treatment</text>
<text transform="translate(367.30,61.50) rotate(-90)" x="0" y="2.06" font-size="5.73" text-anchor="middle" fill="#1e1e1e" stroke="#1e1e1e" stroke-width="0.12">Percentage of cells that are</text>
<text transform="translate(373.00,61.50) rotate(-90)" x="0" y="2.03" font-size="5.65" text-anchor="middle" fill="#1e1e1e" stroke="#1e1e1e" stroke-width="0.12">SSEA-3 negative</text>
<text x="399.70" y="30.50" font-size="5.0" fill="#2a2a2a" stroke="#2a2a2a" stroke-width="0.05" text-anchor="start"><tspan font-style="italic">P</tspan> = .017</text>
<text x="440.1" y="8.6" font-size="12" font-weight="bold" fill="#000">D</text>
<line x1="465.50" y1="18.80" x2="465.50" y2="105.60" stroke="#151515" stroke-width="1.0"/>
<line x1="463.20" y1="105.50" x2="465.20" y2="105.50" stroke="#151515" stroke-width="0.8"/>
<text x="462.60" y="108.19" font-size="5.8" text-anchor="end" fill="#1e1e1e" stroke="#1e1e1e" stroke-width="0.12">0.0</text>
<line x1="463.20" y1="94.50" x2="465.20" y2="94.50" stroke="#151515" stroke-width="0.8"/>
<text x="462.60" y="97.34" font-size="5.8" text-anchor="end" fill="#1e1e1e" stroke="#1e1e1e" stroke-width="0.12">0.5</text>
<line x1="463.20" y1="83.50" x2="465.20" y2="83.50" stroke="#151515" stroke-width="0.8"/>
<text x="462.60" y="86.49" font-size="5.8" text-anchor="end" fill="#1e1e1e" stroke="#1e1e1e" stroke-width="0.12">1.0</text>
<line x1="463.20" y1="73.50" x2="465.20" y2="73.50" stroke="#151515" stroke-width="0.8"/>
<text x="462.60" y="75.64" font-size="5.8" text-anchor="end" fill="#1e1e1e" stroke="#1e1e1e" stroke-width="0.12">1.5</text>
<line x1="463.20" y1="62.50" x2="465.20" y2="62.50" stroke="#151515" stroke-width="0.8"/>
<text x="462.60" y="64.79" font-size="5.8" text-anchor="end" fill="#1e1e1e" stroke="#1e1e1e" stroke-width="0.12">2.0</text>
<line x1="463.20" y1="51.50" x2="465.20" y2="51.50" stroke="#151515" stroke-width="0.8"/>
<text x="462.60" y="53.94" font-size="5.8" text-anchor="end" fill="#1e1e1e" stroke="#1e1e1e" stroke-width="0.12">2.5</text>
<line x1="463.20" y1="40.50" x2="465.20" y2="40.50" stroke="#151515" stroke-width="0.8"/>
<text x="462.60" y="43.09" font-size="5.8" text-anchor="end" fill="#1e1e1e" stroke="#1e1e1e" stroke-width="0.12">3.0</text>
<line x1="463.20" y1="29.50" x2="465.20" y2="29.50" stroke="#151515" stroke-width="0.8"/>
<text x="462.60" y="32.24" font-size="5.8" text-anchor="end" fill="#1e1e1e" stroke="#1e1e1e" stroke-width="0.12">3.5</text>
<line x1="463.20" y1="18.50" x2="465.20" y2="18.50" stroke="#151515" stroke-width="0.8"/>
<text x="462.60" y="21.39" font-size="5.8" text-anchor="end" fill="#1e1e1e" stroke="#1e1e1e" stroke-width="0.12">4.0</text>
<line x1="465.20" y1="105.50" x2="508.80" y2="105.50" stroke="#151515" stroke-width="1.0"/>
<rect x="469.50" y="48.50" width="18.00" height="57.00" fill="#fff" stroke="#555" stroke-width="1.0"/>
<rect x="487.50" y="50.50" width="18.00" height="55.00" fill="url(#gd)" stroke="#111" stroke-width="1.0"/>
<line x1="478.50" y1="30.73" x2="478.50" y2="66.54" stroke="#1e1e1e" stroke-width="1.0"/>
<line x1="477.40" y1="30.50" x2="480.00" y2="30.50" stroke="#1e1e1e" stroke-width="1.0"/>
<line x1="477.40" y1="66.50" x2="480.00" y2="66.50" stroke="#1e1e1e" stroke-width="1.0"/>
<line x1="496.50" y1="49.18" x2="496.50" y2="51.35" stroke="#1e1e1e" stroke-width="1.0"/>
<line x1="495.00" y1="49.50" x2="497.40" y2="49.50" stroke="#1e1e1e" stroke-width="1.0"/>
<line x1="495.00" y1="51.50" x2="497.40" y2="51.50" stroke="#1e1e1e" stroke-width="1.0"/>
<line x1="487.50" y1="105.60" x2="487.50" y2="107.00" stroke="#151515" stroke-width="0.7"/>
<text x="478.45" y="113.92" font-size="5.6" text-anchor="middle" fill="#1e1e1e" stroke="#1e1e1e" stroke-width="0.12" textLength="16.6" lengthAdjust="spacingAndGlyphs">Control</text>
<text x="495.60" y="113.99" font-size="5.8" text-anchor="middle" fill="#1e1e1e" stroke="#1e1e1e" stroke-width="0.12">A12</text>
<text x="486.90" y="122.49" font-size="5.8" text-anchor="middle" fill="#1e1e1e" stroke="#1e1e1e" stroke-width="0.12">Treatment</text>
<text transform="translate(447.20,61.60) rotate(-90)" x="0" y="2.09" font-size="5.8" text-anchor="middle" fill="#1e1e1e" stroke="#1e1e1e" stroke-width="0.12">Percentage of cells apoptotic</text>
<text x="478.70" y="23.10" font-size="5.0" fill="#2a2a2a" stroke="#2a2a2a" stroke-width="0.05" text-anchor="start"><tspan font-style="italic">P</tspan> = .8</text>
<text x="0.5" y="143.6" font-size="12" font-weight="bold" fill="#000">E</text>
<text x="12.80" y="145.82" font-size="5.6" fill="#1e1e1e" stroke="#1e1e1e" stroke-width="0.12">IGF1R-shRNA</text>
<path d="M19.40,190.10 L19.40,189.62 L19.95,188.53 L20.50,186.88 L21.30,182.47 L22.00,173.86 L22.60,163.72 L23.20,152.87 L23.90,150.14 L24.40,154.49 L24.90,158.88 L25.70,166.50 L26.35,170.17 L27.00,174.33 L27.63,176.42 L28.27,178.26 L28.90,180.28 L29.40,181.40 L29.90,182.42 L30.40,182.84 L30.90,184.05 L31.40,185.16 L31.94,184.94 L32.49,184.97 L33.03,185.25 L33.57,186.00 L34.11,186.23 L34.66,186.79 L35.20,186.95 L35.73,186.44 L36.25,186.49 L36.78,186.66 L37.30,186.69 L37.83,187.30 L38.35,187.56 L38.88,187.70 L39.40,187.16 L39.92,187.87 L40.45,187.41 L40.98,187.62 L41.50,188.03 L42.02,187.44 L42.55,187.51 L43.08,188.31 L43.60,187.83 L44.12,187.95 L44.65,188.23 L45.17,188.38 L45.70,187.77 L46.22,188.16 L46.75,188.32 L47.27,188.43 L47.80,188.21 L48.32,188.65 L48.85,189.09 L49.38,188.59 L49.90,188.81 L50.42,188.45 L50.95,188.67 L51.48,189.13 L52.00,188.65 L52.52,189.49 L53.05,189.58 L53.58,188.83 L54.10,189.74 L54.65,189.25 L55.20,189.72 L55.75,189.78 L56.30,189.40 L56.85,189.85 L57.40,189.90 L57.95,190.13 L58.50,189.90  L58.5,190.10 Z" fill="#111" />
<line x1="14.50" y1="147.50" x2="14.50" y2="190.10" stroke="#151515" stroke-width="0.8"/>
<line x1="14.80" y1="190.50" x2="58.50" y2="190.50" stroke="#151515" stroke-width="0.8"/>
<line x1="58.50" y1="190.10" x2="58.50" y2="186.60" stroke="#151515" stroke-width="0.6"/>
<line x1="13.60" y1="190.10" x2="14.80" y2="190.10" stroke="#151515" stroke-width="0.6"/>
<text x="13.30" y="191.40" font-size="3.6" text-anchor="end" fill="#444" stroke="#444" stroke-width="0.04">0</text>
<line x1="13.60" y1="179.20" x2="14.80" y2="179.20" stroke="#151515" stroke-width="0.6"/>
<text x="13.30" y="180.50" font-size="3.6" text-anchor="end" fill="#444" stroke="#444" stroke-width="0.04">50</text>
<line x1="13.60" y1="168.30" x2="14.80" y2="168.30" stroke="#151515" stroke-width="0.6"/>
<text x="13.30" y="169.60" font-size="3.6" text-anchor="end" fill="#444" stroke="#444" stroke-width="0.04">100</text>
<line x1="13.60" y1="157.40" x2="14.80" y2="157.40" stroke="#151515" stroke-width="0.6"/>
<text x="13.30" y="158.70" font-size="3.6" text-anchor="end" fill="#444" stroke="#444" stroke-width="0.04">150</text>
<line x1="14.80" y1="190.10" x2="14.80" y2="191.30" stroke="#151515" stroke-width="0.6"/>
<text x="15.30" y="195.93" font-size="3.7" fill="#1e1e1e" stroke="#1e1e1e" stroke-width="0.12" text-anchor="middle">10<tspan font-size="2.59" dy="-1.48">0</tspan></text>
<line x1="25.73" y1="190.10" x2="25.73" y2="191.30" stroke="#151515" stroke-width="0.6"/>
<text x="26.23" y="195.93" font-size="3.7" fill="#1e1e1e" stroke="#1e1e1e" stroke-width="0.12" text-anchor="middle">10<tspan font-size="2.59" dy="-1.48">1</tspan></text>
<line x1="36.66" y1="190.10" x2="36.66" y2="191.30" stroke="#151515" stroke-width="0.6"/>
<text x="37.16" y="195.93" font-size="3.7" fill="#1e1e1e" stroke="#1e1e1e" stroke-width="0.12" text-anchor="middle">10<tspan font-size="2.59" dy="-1.48">2</tspan></text>
<line x1="47.59" y1="190.10" x2="47.59" y2="191.30" stroke="#151515" stroke-width="0.6"/>
<text x="48.09" y="195.93" font-size="3.7" fill="#1e1e1e" stroke="#1e1e1e" stroke-width="0.12" text-anchor="middle">10<tspan font-size="2.59" dy="-1.48">3</tspan></text>
<line x1="58.52" y1="190.10" x2="58.52" y2="191.30" stroke="#151515" stroke-width="0.6"/>
<text x="59.02" y="195.93" font-size="3.7" fill="#1e1e1e" stroke="#1e1e1e" stroke-width="0.12" text-anchor="middle">10<tspan font-size="2.59" dy="-1.48">4</tspan></text>
<text x="36.20" y="202.16" font-size="4.9" text-anchor="middle" fill="#333" stroke="#333" stroke-width="0.04">GFP</text>
<text transform="translate(4.40,168.80) rotate(-90)" x="0" y="1.76" font-size="4.9" text-anchor="middle" fill="#333" stroke="#333" stroke-width="0.04">Counts</text>
<line x1="14.80" y1="157.50" x2="23.60" y2="157.50" stroke="#151515" stroke-width="0.8"/>
<line x1="14.80" y1="156.20" x2="14.80" y2="158.60" stroke="#151515" stroke-width="0.7"/>
<line x1="23.60" y1="156.20" x2="23.60" y2="158.60" stroke="#151515" stroke-width="0.7"/>
<text x="19.20" y="155.98" font-size="4.4" text-anchor="middle" fill="#1e1e1e" stroke="#1e1e1e" stroke-width="0.04">-</text>
<line x1="33.30" y1="157.50" x2="58.50" y2="157.50" stroke="#151515" stroke-width="0.8"/>
<line x1="33.30" y1="156.40" x2="33.30" y2="158.80" stroke="#151515" stroke-width="0.7"/>
<line x1="58.50" y1="156.40" x2="58.50" y2="158.80" stroke="#151515" stroke-width="0.7"/>
<text x="45.90" y="156.18" font-size="4.4" text-anchor="middle" fill="#1e1e1e" stroke="#1e1e1e" stroke-width="0.04">+</text>
<text x="12.80" y="211.82" font-size="5.6" fill="#1e1e1e" stroke="#1e1e1e" stroke-width="0.12">Control-shRNA</text>
<path d="M18.20,256.20 L18.20,255.97 L18.85,255.60 L19.50,254.96 L20.10,253.42 L20.70,252.04 L21.35,248.51 L22.00,245.79 L22.60,238.10 L23.20,230.92 L24.10,218.18 L24.60,217.47 L25.10,216.48 L25.60,221.35 L26.10,225.73 L26.75,231.73 L27.40,238.89 L27.90,239.62 L28.40,240.06 L28.90,241.83 L29.40,242.07 L29.90,243.30 L30.40,244.72 L30.93,246.70 L31.47,248.75 L32.00,250.95 L32.53,251.07 L33.07,251.25 L33.60,251.43 L34.13,251.64 L34.67,252.60 L35.20,252.95 L35.73,252.78 L36.27,253.01 L36.80,252.66 L37.33,252.60 L37.87,252.75 L38.40,253.27 L38.93,252.48 L39.47,252.97 L40.00,252.75 L40.50,253.28 L41.00,252.87 L41.50,252.86 L42.00,252.93 L42.50,253.08 L43.00,253.32 L43.50,252.91 L44.00,253.41 L44.50,252.68 L45.00,252.85 L45.50,252.68 L46.00,252.70 L46.50,253.38 L47.01,253.44 L47.51,253.01 L48.02,253.13 L48.53,253.47 L49.03,253.91 L49.54,254.10 L50.05,254.14 L50.55,254.10 L51.06,253.77 L51.57,254.13 L52.07,254.04 L52.58,254.49 L53.09,254.64 L53.59,254.39 L54.10,254.55 L54.65,255.21 L55.20,254.58 L55.75,255.48 L56.30,255.69 L56.85,255.87 L57.40,255.43 L57.95,255.73 L58.50,255.80  L58.5,256.20 Z" fill="#111" />
<line x1="14.50" y1="213.70" x2="14.50" y2="256.20" stroke="#151515" stroke-width="0.8"/>
<line x1="14.80" y1="256.50" x2="58.50" y2="256.50" stroke="#151515" stroke-width="0.8"/>
<line x1="58.50" y1="256.20" x2="58.50" y2="252.70" stroke="#151515" stroke-width="0.6"/>
<line x1="13.60" y1="256.20" x2="14.80" y2="256.20" stroke="#151515" stroke-width="0.6"/>
<text x="13.30" y="257.50" font-size="3.6" text-anchor="end" fill="#444" stroke="#444" stroke-width="0.04">0</text>
<line x1="13.60" y1="245.30" x2="14.80" y2="245.30" stroke="#151515" stroke-width="0.6"/>
<text x="13.30" y="246.60" font-size="3.6" text-anchor="end" fill="#444" stroke="#444" stroke-width="0.04">50</text>
<line x1="13.60" y1="234.40" x2="14.80" y2="234.40" stroke="#151515" stroke-width="0.6"/>
<text x="13.30" y="235.70" font-size="3.6" text-anchor="end" fill="#444" stroke="#444" stroke-width="0.04">100</text>
<line x1="13.60" y1="223.50" x2="14.80" y2="223.50" stroke="#151515" stroke-width="0.6"/>
<text x="13.30" y="224.80" font-size="3.6" text-anchor="end" fill="#444" stroke="#444" stroke-width="0.04">150</text>
<line x1="14.80" y1="256.20" x2="14.80" y2="257.40" stroke="#151515" stroke-width="0.6"/>
<text x="15.30" y="262.03" font-size="3.7" fill="#1e1e1e" stroke="#1e1e1e" stroke-width="0.12" text-anchor="middle">10<tspan font-size="2.59" dy="-1.48">0</tspan></text>
<line x1="25.73" y1="256.20" x2="25.73" y2="257.40" stroke="#151515" stroke-width="0.6"/>
<text x="26.23" y="262.03" font-size="3.7" fill="#1e1e1e" stroke="#1e1e1e" stroke-width="0.12" text-anchor="middle">10<tspan font-size="2.59" dy="-1.48">1</tspan></text>
<line x1="36.66" y1="256.20" x2="36.66" y2="257.40" stroke="#151515" stroke-width="0.6"/>
<text x="37.16" y="262.03" font-size="3.7" fill="#1e1e1e" stroke="#1e1e1e" stroke-width="0.12" text-anchor="middle">10<tspan font-size="2.59" dy="-1.48">2</tspan></text>
<line x1="47.59" y1="256.20" x2="47.59" y2="257.40" stroke="#151515" stroke-width="0.6"/>
<text x="48.09" y="262.03" font-size="3.7" fill="#1e1e1e" stroke="#1e1e1e" stroke-width="0.12" text-anchor="middle">10<tspan font-size="2.59" dy="-1.48">3</tspan></text>
<line x1="58.52" y1="256.20" x2="58.52" y2="257.40" stroke="#151515" stroke-width="0.6"/>
<text x="59.02" y="262.03" font-size="3.7" fill="#1e1e1e" stroke="#1e1e1e" stroke-width="0.12" text-anchor="middle">10<tspan font-size="2.59" dy="-1.48">4</tspan></text>
<text x="36.20" y="268.26" font-size="4.9" text-anchor="middle" fill="#333" stroke="#333" stroke-width="0.04">GFP</text>
<text transform="translate(4.40,234.95) rotate(-90)" x="0" y="1.76" font-size="4.9" text-anchor="middle" fill="#333" stroke="#333" stroke-width="0.04">Counts</text>
<line x1="33.30" y1="223.50" x2="58.50" y2="223.50" stroke="#151515" stroke-width="0.8"/>
<line x1="33.30" y1="222.30" x2="33.30" y2="224.70" stroke="#151515" stroke-width="0.7"/>
<line x1="58.50" y1="222.30" x2="58.50" y2="224.70" stroke="#151515" stroke-width="0.7"/>
<text x="45.90" y="222.08" font-size="4.4" text-anchor="middle" fill="#1e1e1e" stroke="#1e1e1e" stroke-width="0.04">+</text>
<line x1="83.50" y1="153.20" x2="83.50" y2="224.50" stroke="#151515" stroke-width="1.0"/>
<line x1="82.10" y1="224.50" x2="83.30" y2="224.50" stroke="#151515" stroke-width="0.8"/>
<text x="82.00" y="227.09" font-size="5.8" text-anchor="end" fill="#1e1e1e" stroke="#1e1e1e" stroke-width="0.12">0.0</text>
<line x1="82.10" y1="214.50" x2="83.30" y2="214.50" stroke="#151515" stroke-width="0.8"/>
<text x="82.00" y="217.05" font-size="5.8" text-anchor="end" fill="#1e1e1e" stroke="#1e1e1e" stroke-width="0.12">0.2</text>
<line x1="82.10" y1="204.50" x2="83.30" y2="204.50" stroke="#151515" stroke-width="0.8"/>
<text x="82.00" y="207.00" font-size="5.8" text-anchor="end" fill="#1e1e1e" stroke="#1e1e1e" stroke-width="0.12">0.4</text>
<line x1="82.10" y1="194.50" x2="83.30" y2="194.50" stroke="#151515" stroke-width="0.8"/>
<text x="82.00" y="196.96" font-size="5.8" text-anchor="end" fill="#1e1e1e" stroke="#1e1e1e" stroke-width="0.12">0.6</text>
<line x1="82.10" y1="184.50" x2="83.30" y2="184.50" stroke="#151515" stroke-width="0.8"/>
<text x="82.00" y="186.92" font-size="5.8" text-anchor="end" fill="#1e1e1e" stroke="#1e1e1e" stroke-width="0.12">0.8</text>
<line x1="82.10" y1="174.50" x2="83.30" y2="174.50" stroke="#151515" stroke-width="0.8"/>
<text x="82.00" y="176.87" font-size="5.8" text-anchor="end" fill="#1e1e1e" stroke="#1e1e1e" stroke-width="0.12">1.0</text>
<line x1="82.10" y1="164.50" x2="83.30" y2="164.50" stroke="#151515" stroke-width="0.8"/>
<text x="82.00" y="166.83" font-size="5.8" text-anchor="end" fill="#1e1e1e" stroke="#1e1e1e" stroke-width="0.12">1.2</text>
<line x1="82.10" y1="154.50" x2="83.30" y2="154.50" stroke="#151515" stroke-width="0.8"/>
<text x="82.00" y="156.79" font-size="5.8" text-anchor="end" fill="#1e1e1e" stroke="#1e1e1e" stroke-width="0.12">1.4</text>
<line x1="83.30" y1="224.50" x2="155.00" y2="224.50" stroke="#151515" stroke-width="1.0"/>
<rect x="89.50" y="211.50" width="17.00" height="13.00" fill="url(#gd)" stroke="#111" stroke-width="1.0"/>
<rect x="112.50" y="174.50" width="17.00" height="50.00" fill="url(#gl)" stroke="#2a2a2a" stroke-width="1.0"/>
<rect x="135.50" y="174.50" width="16.00" height="50.00" fill="#fff" stroke="#2a2a2a" stroke-width="1.0"/>
<line x1="97.50" y1="210.94" x2="97.50" y2="211.95" stroke="#1e1e1e" stroke-width="1.0"/>
<line x1="96.70" y1="210.50" x2="99.10" y2="210.50" stroke="#1e1e1e" stroke-width="1.0"/>
<line x1="96.70" y1="211.50" x2="99.10" y2="211.50" stroke="#1e1e1e" stroke-width="1.0"/>
<line x1="121.50" y1="164.24" x2="121.50" y2="184.33" stroke="#666" stroke-width="1.0"/>
<line x1="120.10" y1="164.50" x2="122.10" y2="164.50" stroke="#666" stroke-width="1.0"/>
<line x1="120.10" y1="184.50" x2="122.10" y2="184.50" stroke="#666" stroke-width="1.0"/>
<line x1="143.50" y1="173.28" x2="143.50" y2="175.29" stroke="#1e1e1e" stroke-width="1.0"/>
<line x1="142.40" y1="173.50" x2="144.80" y2="173.50" stroke="#1e1e1e" stroke-width="1.0"/>
<line x1="142.40" y1="175.50" x2="144.80" y2="175.50" stroke="#1e1e1e" stroke-width="1.0"/>
<path d="M97.5,204.5 L97.5,145.5 L144.5,145.5 L144.5,166.5" fill="none" stroke="#4a4a4a" stroke-width="0.9" />
<path d="M97.5,153.5 L121.5,153.5 L121.5,159.5" fill="none" stroke="#4a4a4a" stroke-width="0.9" />
<text x="98.60" y="152.13" font-size="4.8" fill="#2a2a2a" stroke="#2a2a2a" stroke-width="0.05" text-anchor="start"><tspan font-style="italic">P</tspan> = .019</text>
<text x="108.80" y="144.63" font-size="4.8" fill="#2a2a2a" stroke="#2a2a2a" stroke-width="0.05" text-anchor="start"><tspan font-style="italic">P</tspan> < .001</text>
<text x="97.90" y="232.72" font-size="5.6" text-anchor="middle" fill="#1e1e1e" stroke="#1e1e1e" stroke-width="0.12">IGF1R</text>
<text x="97.90" y="238.52" font-size="5.6" text-anchor="middle" fill="#1e1e1e" stroke="#1e1e1e" stroke-width="0.12">shRNA</text>
<text x="97.90" y="244.32" font-size="5.6" text-anchor="middle" fill="#1e1e1e" stroke="#1e1e1e" stroke-width="0.12">GFP+</text>
<text x="121.10" y="232.72" font-size="5.6" text-anchor="middle" fill="#1e1e1e" stroke="#1e1e1e" stroke-width="0.12">IGF1R</text>
<text x="121.10" y="238.52" font-size="5.6" text-anchor="middle" fill="#1e1e1e" stroke="#1e1e1e" stroke-width="0.12">shRNA</text>
<text x="121.10" y="244.32" font-size="5.6" text-anchor="middle" fill="#1e1e1e" stroke="#1e1e1e" stroke-width="0.12">GFP-</text>
<text x="143.60" y="232.72" font-size="5.6" text-anchor="middle" fill="#1e1e1e" stroke="#1e1e1e" stroke-width="0.12">Control</text>
<text x="143.60" y="238.52" font-size="5.6" text-anchor="middle" fill="#1e1e1e" stroke="#1e1e1e" stroke-width="0.12">shRNA</text>
<text x="143.60" y="244.32" font-size="5.6" text-anchor="middle" fill="#1e1e1e" stroke="#1e1e1e" stroke-width="0.12">GFP+</text>
<text x="121.00" y="253.70" font-size="6.1" text-anchor="middle" fill="#1e1e1e" stroke="#1e1e1e" stroke-width="0.12">Sorted population</text>
<text transform="translate(67.90,188.50) rotate(-90)" x="0" y="2.09" font-size="5.81" text-anchor="middle" fill="#1e1e1e" stroke="#1e1e1e" stroke-width="0.12">Relative Expression of IGF1R</text>
<text x="160.5" y="143.1" font-size="12" font-weight="bold" fill="#000">F</text>
<line x1="182.50" y1="147.40" x2="182.50" y2="233.20" stroke="#151515" stroke-width="1.0"/>
<line x1="180.00" y1="233.50" x2="182.00" y2="233.50" stroke="#151515" stroke-width="0.8"/>
<text x="179.40" y="235.79" font-size="5.8" text-anchor="end" fill="#1e1e1e" stroke="#1e1e1e" stroke-width="0.12">0</text>
<line x1="180.00" y1="221.50" x2="182.00" y2="221.50" stroke="#151515" stroke-width="0.8"/>
<text x="179.40" y="223.60" font-size="5.8" text-anchor="end" fill="#1e1e1e" stroke="#1e1e1e" stroke-width="0.12">10</text>
<line x1="180.00" y1="208.50" x2="182.00" y2="208.50" stroke="#151515" stroke-width="0.8"/>
<text x="179.40" y="211.42" font-size="5.8" text-anchor="end" fill="#1e1e1e" stroke="#1e1e1e" stroke-width="0.12">20</text>
<line x1="180.00" y1="196.50" x2="182.00" y2="196.50" stroke="#151515" stroke-width="0.8"/>
<text x="179.40" y="199.23" font-size="5.8" text-anchor="end" fill="#1e1e1e" stroke="#1e1e1e" stroke-width="0.12">30</text>
<line x1="180.00" y1="184.50" x2="182.00" y2="184.50" stroke="#151515" stroke-width="0.8"/>
<text x="179.40" y="187.05" font-size="5.8" text-anchor="end" fill="#1e1e1e" stroke="#1e1e1e" stroke-width="0.12">40</text>
<line x1="180.00" y1="172.50" x2="182.00" y2="172.50" stroke="#151515" stroke-width="0.8"/>
<text x="179.40" y="174.86" font-size="5.8" text-anchor="end" fill="#1e1e1e" stroke="#1e1e1e" stroke-width="0.12">50</text>
<line x1="180.00" y1="160.50" x2="182.00" y2="160.50" stroke="#151515" stroke-width="0.8"/>
<text x="179.40" y="162.67" font-size="5.8" text-anchor="end" fill="#1e1e1e" stroke="#1e1e1e" stroke-width="0.12">60</text>
<line x1="180.00" y1="147.50" x2="182.00" y2="147.50" stroke="#151515" stroke-width="0.8"/>
<text x="179.40" y="150.49" font-size="5.8" text-anchor="end" fill="#1e1e1e" stroke="#1e1e1e" stroke-width="0.12">70</text>
<line x1="182.00" y1="233.50" x2="262.00" y2="233.50" stroke="#151515" stroke-width="1.0"/>
<line x1="188.10" y1="233.20" x2="188.10" y2="234.60" stroke="#151515" stroke-width="0.7"/>
<text x="188.10" y="242.39" font-size="5.8" text-anchor="middle" fill="#1e1e1e" stroke="#1e1e1e" stroke-width="0.12">1</text>
<line x1="199.50" y1="233.20" x2="199.50" y2="234.60" stroke="#151515" stroke-width="0.7"/>
<text x="199.50" y="242.39" font-size="5.8" text-anchor="middle" fill="#1e1e1e" stroke="#1e1e1e" stroke-width="0.12">5</text>
<line x1="211.00" y1="233.20" x2="211.00" y2="234.60" stroke="#151515" stroke-width="0.7"/>
<text x="211.00" y="242.39" font-size="5.8" text-anchor="middle" fill="#1e1e1e" stroke="#1e1e1e" stroke-width="0.12">8</text>
<line x1="222.60" y1="233.20" x2="222.60" y2="234.60" stroke="#151515" stroke-width="0.7"/>
<text x="222.60" y="242.39" font-size="5.8" text-anchor="middle" fill="#1e1e1e" stroke="#1e1e1e" stroke-width="0.12">12</text>
<line x1="234.20" y1="233.20" x2="234.20" y2="234.60" stroke="#151515" stroke-width="0.7"/>
<text x="234.20" y="242.39" font-size="5.8" text-anchor="middle" fill="#1e1e1e" stroke="#1e1e1e" stroke-width="0.12">15</text>
<line x1="245.80" y1="233.20" x2="245.80" y2="234.60" stroke="#151515" stroke-width="0.7"/>
<text x="245.80" y="242.39" font-size="5.8" text-anchor="middle" fill="#1e1e1e" stroke="#1e1e1e" stroke-width="0.12">19</text>
<line x1="257.30" y1="233.20" x2="257.30" y2="234.60" stroke="#151515" stroke-width="0.7"/>
<text x="257.30" y="242.39" font-size="5.8" text-anchor="middle" fill="#1e1e1e" stroke="#1e1e1e" stroke-width="0.12">22</text>
<text x="221.50" y="249.79" font-size="5.8" text-anchor="middle" fill="#1e1e1e" stroke="#1e1e1e" stroke-width="0.12">Days after transduction</text>
<text transform="translate(168.50,190.20) rotate(-90)" x="0" y="2.14" font-size="5.95" text-anchor="middle" fill="#1e1e1e" stroke="#1e1e1e" stroke-width="0.12">Percentage of cells GFP positive</text>
<line x1="191.18" y1="155.74" x2="196.42" y2="155.17" stroke="#111" stroke-width="1.1"/>
<line x1="202.60" y1="154.68" x2="207.90" y2="154.40" stroke="#111" stroke-width="1.1"/>
<line x1="214.13" y1="155.09" x2="219.47" y2="156.55" stroke="#111" stroke-width="1.1"/>
<line x1="225.73" y1="156.48" x2="231.07" y2="154.91" stroke="#111" stroke-width="1.1"/>
<line x1="237.33" y1="154.32" x2="242.67" y2="154.88" stroke="#111" stroke-width="1.1"/>
<line x1="248.91" y1="155.38" x2="254.20" y2="155.66" stroke="#111" stroke-width="1.1"/>
<path d="M188.10,166.79 L199.50,190.06 L211.00,203.71 L222.60,213.58 L234.20,219.92 L245.80,227.11 L257.30,228.57 " fill="none" stroke="#111" stroke-width="1.3" />
<circle cx="188.10" cy="166.79" r="1.9" fill="#111"/>
<circle cx="199.50" cy="190.06" r="1.9" fill="#111"/>
<circle cx="211.00" cy="203.71" r="1.9" fill="#111"/>
<circle cx="222.60" cy="213.58" r="1.9" fill="#111"/>
<circle cx="234.20" cy="219.92" r="1.9" fill="#111"/>
<circle cx="245.80" cy="227.11" r="1.9" fill="#111"/>
<circle cx="257.30" cy="228.57" r="1.9" fill="#111"/>
<path d="M185.80,157.96 L190.40,157.96 L188.10,154.06 Z" fill="#111" />
<path d="M197.20,156.75 L201.80,156.75 L199.50,152.85 Z" fill="#111" />
<path d="M208.70,156.14 L213.30,156.14 L211.00,152.24 Z" fill="#111" />
<path d="M220.30,159.30 L224.90,159.30 L222.60,155.40 Z" fill="#111" />
<path d="M231.90,155.89 L236.50,155.89 L234.20,151.99 Z" fill="#111" />
<path d="M243.50,157.11 L248.10,157.11 L245.80,153.21 Z" fill="#111" />
<path d="M255.00,157.72 L259.60,157.72 L257.30,153.82 Z" fill="#111" />
<circle cx="187.4" cy="143.7" r="1.6" fill="#111"/>
<text x="190.70" y="145.46" font-size="4.9" fill="#1e1e1e" stroke="#1e1e1e" stroke-width="0.04">IGF1R-shRNA</text>
<path d="M227.00,145.20 L230.60,145.20 L228.80,142.10 Z" fill="#111" />
<text x="233.20" y="145.46" font-size="4.9" fill="#1e1e1e" stroke="#1e1e1e" stroke-width="0.04">Control-shRNA</text>
<text x="292.40" y="147.11" font-size="5.85" fill="#1e1e1e" stroke="#1e1e1e" stroke-width="0.12">Day 1</text>
<text x="344.90" y="147.11" font-size="5.85" fill="#1e1e1e" stroke="#1e1e1e" stroke-width="0.12">Day 12</text>
<text x="397.00" y="147.11" font-size="5.85" fill="#1e1e1e" stroke="#1e1e1e" stroke-width="0.12">Day 22</text>
<rect x="270.70" y="152.30" width="8.30" height="40.00" fill="#000"/>
<text transform="translate(274.70,172.20) rotate(-90)" x="0" y="1.84" font-size="5.1" text-anchor="middle" fill="#fff" stroke="#fff" stroke-width="0.04">Control-shRNA</text>
<rect x="270.90" y="197.60" width="8.00" height="40.40" fill="#000"/>
<text transform="translate(274.80,217.80) rotate(-90)" x="0" y="1.84" font-size="5.1" text-anchor="middle" fill="#fff" stroke="#fff" stroke-width="0.04">IGF1R-shRNA</text>
<text transform="translate(281.70,171.90) rotate(-90)" x="0" y="1.44" font-size="4.0" text-anchor="middle" fill="#333" stroke="#333" stroke-width="0.04">IGF1R</text>
<text transform="translate(281.90,218.00) rotate(-90)" x="0" y="1.44" font-size="4.0" text-anchor="middle" fill="#333" stroke="#333" stroke-width="0.04">IGF1R</text>
<g filter="url(#grain)">
<ellipse cx="297.5" cy="176.5" rx="2.6" ry="2.6" fill="#222" opacity="0.4"/>
<ellipse cx="318" cy="175.8" rx="14" ry="1.5" fill="#222" opacity="0.3"/>
<ellipse cx="326" cy="175.3" rx="6" ry="1.3" fill="#222" opacity="0.25"/>
</g>
<rect x="293.50" y="152.50" width="48.00" height="41.00" fill="none" stroke="#aaa" stroke-width="0.5"/>
<line x1="293.60" y1="152.60" x2="293.60" y2="193.30" stroke="#555" stroke-width="0.6"/>
<line x1="293.60" y1="193.30" x2="341.00" y2="193.30" stroke="#777" stroke-width="0.6"/>
<line x1="304.60" y1="152.60" x2="304.60" y2="193.30" stroke="#888" stroke-width="0.6"/>
<line x1="293.60" y1="183.00" x2="341.00" y2="183.00" stroke="#999" stroke-width="0.6"/>
<text x="294.50" y="156.26" font-size="3.5" fill="#333" stroke="#333" stroke-width="0.04">30.87</text>
<text x="340.00" y="156.26" font-size="3.5" text-anchor="end" fill="#333" stroke="#333" stroke-width="0.04">60.60</text>
<text x="294.50" y="191.56" font-size="3.5" fill="#333" stroke="#333" stroke-width="0.04">1.40</text>
<text x="340.00" y="191.56" font-size="3.5" text-anchor="end" fill="#333" stroke="#333" stroke-width="0.04">2.13</text>
<text x="290.20" y="154.73" font-size="3.7" fill="#1e1e1e" stroke="#1e1e1e" stroke-width="0.12" text-anchor="middle">10<tspan font-size="2.59" dy="-1.48">4</tspan></text>
<text x="290.20" y="164.51" font-size="3.7" fill="#1e1e1e" stroke="#1e1e1e" stroke-width="0.12" text-anchor="middle">10<tspan font-size="2.59" dy="-1.48">3</tspan></text>
<text x="290.20" y="174.28" font-size="3.7" fill="#1e1e1e" stroke="#1e1e1e" stroke-width="0.12" text-anchor="middle">10<tspan font-size="2.59" dy="-1.48">2</tspan></text>
<text x="290.20" y="184.06" font-size="3.7" fill="#1e1e1e" stroke="#1e1e1e" stroke-width="0.12" text-anchor="middle">10<tspan font-size="2.59" dy="-1.48">1</tspan></text>
<text x="290.20" y="193.83" font-size="3.7" fill="#1e1e1e" stroke="#1e1e1e" stroke-width="0.12" text-anchor="middle">10<tspan font-size="2.59" dy="-1.48">0</tspan></text>
<g filter="url(#grain)">
<ellipse cx="348.3" cy="175.8" rx="2.6" ry="2.8" fill="#222" opacity="0.8"/>
<ellipse cx="371" cy="176.2" rx="10" ry="2.3" fill="#222" opacity="0.5"/>
<ellipse cx="378" cy="175.5" rx="4" ry="2" fill="#222" opacity="0.4"/>
<ellipse cx="366" cy="179.5" rx="8" ry="1.2" fill="#222" opacity="0.22"/>
</g>
<rect x="345.50" y="152.50" width="47.00" height="41.00" fill="none" stroke="#aaa" stroke-width="0.5"/>
<line x1="345.00" y1="152.60" x2="345.00" y2="193.50" stroke="#555" stroke-width="0.6"/>
<line x1="345.00" y1="193.50" x2="392.00" y2="193.50" stroke="#777" stroke-width="0.6"/>
<line x1="356.20" y1="152.60" x2="356.20" y2="193.50" stroke="#888" stroke-width="0.6"/>
<line x1="345.00" y1="183.00" x2="392.00" y2="183.00" stroke="#999" stroke-width="0.6"/>
<text x="345.90" y="156.26" font-size="3.5" fill="#333" stroke="#333" stroke-width="0.04">34.80</text>
<text x="391.00" y="156.26" font-size="3.5" text-anchor="end" fill="#333" stroke="#333" stroke-width="0.04">59.32</text>
<text x="345.90" y="191.76" font-size="3.5" fill="#333" stroke="#333" stroke-width="0.04">2.68</text>
<text x="391.00" y="191.76" font-size="3.5" text-anchor="end" fill="#333" stroke="#333" stroke-width="0.04">3.20</text>
<g filter="url(#grain)">
<ellipse cx="401.2" cy="174.4" rx="2.5" ry="1.8" fill="#222" opacity="0.8"/>
<ellipse cx="401.8" cy="179.2" rx="2.5" ry="1.6" fill="#222" opacity="0.7"/>
<ellipse cx="425" cy="176.3" rx="11" ry="2.3" fill="#222" opacity="0.5"/>
<ellipse cx="432" cy="178.5" rx="5" ry="1.5" fill="#222" opacity="0.4"/>
</g>
<rect x="397.50" y="152.50" width="47.00" height="41.00" fill="none" stroke="#aaa" stroke-width="0.5"/>
<line x1="397.00" y1="152.60" x2="397.00" y2="193.00" stroke="#555" stroke-width="0.6"/>
<line x1="397.00" y1="193.00" x2="444.60" y2="193.00" stroke="#777" stroke-width="0.6"/>
<line x1="408.70" y1="152.60" x2="408.70" y2="193.00" stroke="#888" stroke-width="0.6"/>
<line x1="397.00" y1="183.00" x2="444.60" y2="183.00" stroke="#999" stroke-width="0.6"/>
<text x="397.90" y="156.26" font-size="3.5" fill="#333" stroke="#333" stroke-width="0.04">35.73</text>
<text x="443.60" y="156.26" font-size="3.5" text-anchor="end" fill="#333" stroke="#333" stroke-width="0.04">62.54</text>
<text x="397.90" y="191.26" font-size="3.5" fill="#333" stroke="#333" stroke-width="0.04">0.38</text>
<text x="443.60" y="191.26" font-size="3.5" text-anchor="end" fill="#333" stroke="#333" stroke-width="0.04">1.36</text>
<g filter="url(#grain)">
<ellipse cx="298" cy="221" rx="2.6" ry="2.8" fill="#222" opacity="0.42"/>
<ellipse cx="310" cy="225" rx="10" ry="2" fill="#222" opacity="0.22"/>
<ellipse cx="325" cy="226.5" rx="8" ry="1.5" fill="#222" opacity="0.2"/>
</g>
<rect x="293.50" y="198.50" width="47.00" height="40.00" fill="none" stroke="#aaa" stroke-width="0.5"/>
<line x1="293.40" y1="198.40" x2="293.40" y2="238.00" stroke="#555" stroke-width="0.6"/>
<line x1="293.40" y1="238.00" x2="340.60" y2="238.00" stroke="#777" stroke-width="0.6"/>
<line x1="304.80" y1="198.40" x2="304.80" y2="238.00" stroke="#888" stroke-width="0.6"/>
<line x1="293.40" y1="227.90" x2="340.60" y2="227.90" stroke="#999" stroke-width="0.6"/>
<text x="294.30" y="202.06" font-size="3.5" fill="#333" stroke="#333" stroke-width="0.04">41.45</text>
<text x="339.60" y="202.06" font-size="3.5" text-anchor="end" fill="#333" stroke="#333" stroke-width="0.04">33.90</text>
<text x="294.30" y="236.26" font-size="3.5" fill="#333" stroke="#333" stroke-width="0.04">3.24</text>
<text x="339.60" y="236.26" font-size="3.5" text-anchor="end" fill="#333" stroke="#333" stroke-width="0.04">19.41</text>
<text x="290.00" y="200.53" font-size="3.7" fill="#1e1e1e" stroke="#1e1e1e" stroke-width="0.12" text-anchor="middle">10<tspan font-size="2.59" dy="-1.48">4</tspan></text>
<text x="290.00" y="210.03" font-size="3.7" fill="#1e1e1e" stroke="#1e1e1e" stroke-width="0.12" text-anchor="middle">10<tspan font-size="2.59" dy="-1.48">3</tspan></text>
<text x="290.00" y="219.53" font-size="3.7" fill="#1e1e1e" stroke="#1e1e1e" stroke-width="0.12" text-anchor="middle">10<tspan font-size="2.59" dy="-1.48">2</tspan></text>
<text x="290.00" y="229.03" font-size="3.7" fill="#1e1e1e" stroke="#1e1e1e" stroke-width="0.12" text-anchor="middle">10<tspan font-size="2.59" dy="-1.48">1</tspan></text>
<text x="290.00" y="238.53" font-size="3.7" fill="#1e1e1e" stroke="#1e1e1e" stroke-width="0.12" text-anchor="middle">10<tspan font-size="2.59" dy="-1.48">0</tspan></text>
<text x="295.20" y="242.93" font-size="3.7" fill="#1e1e1e" stroke="#1e1e1e" stroke-width="0.12" text-anchor="middle">10<tspan font-size="2.59" dy="-1.48">0</tspan></text>
<text x="306.10" y="242.93" font-size="3.7" fill="#1e1e1e" stroke="#1e1e1e" stroke-width="0.12" text-anchor="middle">10<tspan font-size="2.59" dy="-1.48">1</tspan></text>
<text x="317.00" y="242.93" font-size="3.7" fill="#1e1e1e" stroke="#1e1e1e" stroke-width="0.12" text-anchor="middle">10<tspan font-size="2.59" dy="-1.48">2</tspan></text>
<text x="327.90" y="242.93" font-size="3.7" fill="#1e1e1e" stroke="#1e1e1e" stroke-width="0.12" text-anchor="middle">10<tspan font-size="2.59" dy="-1.48">3</tspan></text>
<text x="338.80" y="242.93" font-size="3.7" fill="#1e1e1e" stroke="#1e1e1e" stroke-width="0.12" text-anchor="middle">10<tspan font-size="2.59" dy="-1.48">4</tspan></text>
<text x="317.00" y="248.56" font-size="4.6" text-anchor="middle" fill="#333" stroke="#333" stroke-width="0.04">GFP</text>
<g filter="url(#grain)">
<ellipse cx="347.9" cy="222.3" rx="2.4" ry="4.4" fill="#222" opacity="0.9"/>
<ellipse cx="368" cy="233" rx="9" ry="1.4" fill="#222" opacity="0.15"/>
</g>
<rect x="345.50" y="198.50" width="47.00" height="40.00" fill="none" stroke="#aaa" stroke-width="0.5"/>
<line x1="345.00" y1="198.40" x2="345.00" y2="238.00" stroke="#555" stroke-width="0.6"/>
<line x1="345.00" y1="238.00" x2="392.20" y2="238.00" stroke="#777" stroke-width="0.6"/>
<line x1="356.20" y1="198.40" x2="356.20" y2="238.00" stroke="#888" stroke-width="0.6"/>
<line x1="345.00" y1="227.90" x2="392.20" y2="227.90" stroke="#999" stroke-width="0.6"/>
<text x="345.90" y="202.06" font-size="3.5" fill="#333" stroke="#333" stroke-width="0.04">78.66</text>
<text x="391.20" y="202.06" font-size="3.5" text-anchor="end" fill="#333" stroke="#333" stroke-width="0.04">3.67</text>
<text x="345.90" y="236.26" font-size="3.5" fill="#333" stroke="#333" stroke-width="0.04">4.81</text>
<text x="391.20" y="236.26" font-size="3.5" text-anchor="end" fill="#333" stroke="#333" stroke-width="0.04">12.86</text>
<text x="346.80" y="242.93" font-size="3.7" fill="#1e1e1e" stroke="#1e1e1e" stroke-width="0.12" text-anchor="middle">10<tspan font-size="2.59" dy="-1.48">0</tspan></text>
<text x="357.70" y="242.93" font-size="3.7" fill="#1e1e1e" stroke="#1e1e1e" stroke-width="0.12" text-anchor="middle">10<tspan font-size="2.59" dy="-1.48">1</tspan></text>
<text x="368.60" y="242.93" font-size="3.7" fill="#1e1e1e" stroke="#1e1e1e" stroke-width="0.12" text-anchor="middle">10<tspan font-size="2.59" dy="-1.48">2</tspan></text>
<text x="379.50" y="242.93" font-size="3.7" fill="#1e1e1e" stroke="#1e1e1e" stroke-width="0.12" text-anchor="middle">10<tspan font-size="2.59" dy="-1.48">3</tspan></text>
<text x="390.40" y="242.93" font-size="3.7" fill="#1e1e1e" stroke="#1e1e1e" stroke-width="0.12" text-anchor="middle">10<tspan font-size="2.59" dy="-1.48">4</tspan></text>
<text x="368.60" y="248.56" font-size="4.6" text-anchor="middle" fill="#333" stroke="#333" stroke-width="0.04">GFP</text>
<g filter="url(#grain)">
<ellipse cx="399.8" cy="221.5" rx="2.4" ry="4.0" fill="#222" opacity="0.95"/>
<ellipse cx="419" cy="222" rx="3" ry="1.5" fill="#222" opacity="0.1"/>
</g>
<rect x="396.50" y="198.50" width="47.00" height="40.00" fill="none" stroke="#aaa" stroke-width="0.5"/>
<line x1="396.80" y1="198.40" x2="396.80" y2="238.00" stroke="#555" stroke-width="0.6"/>
<line x1="396.80" y1="238.00" x2="443.80" y2="238.00" stroke="#777" stroke-width="0.6"/>
<line x1="408.60" y1="198.40" x2="408.60" y2="238.00" stroke="#888" stroke-width="0.6"/>
<line x1="396.80" y1="227.90" x2="443.80" y2="227.90" stroke="#999" stroke-width="0.6"/>
<text x="397.70" y="202.06" font-size="3.5" fill="#333" stroke="#333" stroke-width="0.04">94.34</text>
<text x="442.80" y="202.06" font-size="3.5" text-anchor="end" fill="#333" stroke="#333" stroke-width="0.04">1.91</text>
<text x="397.70" y="236.26" font-size="3.5" fill="#333" stroke="#333" stroke-width="0.04">1.31</text>
<text x="442.80" y="236.26" font-size="3.5" text-anchor="end" fill="#333" stroke="#333" stroke-width="0.04">2.34</text>
<text x="398.60" y="242.93" font-size="3.7" fill="#1e1e1e" stroke="#1e1e1e" stroke-width="0.12" text-anchor="middle">10<tspan font-size="2.59" dy="-1.48">0</tspan></text>
<text x="409.45" y="242.93" font-size="3.7" fill="#1e1e1e" stroke="#1e1e1e" stroke-width="0.12" text-anchor="middle">10<tspan font-size="2.59" dy="-1.48">1</tspan></text>
<text x="420.30" y="242.93" font-size="3.7" fill="#1e1e1e" stroke="#1e1e1e" stroke-width="0.12" text-anchor="middle">10<tspan font-size="2.59" dy="-1.48">2</tspan></text>
<text x="431.15" y="242.93" font-size="3.7" fill="#1e1e1e" stroke="#1e1e1e" stroke-width="0.12" text-anchor="middle">10<tspan font-size="2.59" dy="-1.48">3</tspan></text>
<text x="442.00" y="242.93" font-size="3.7" fill="#1e1e1e" stroke="#1e1e1e" stroke-width="0.12" text-anchor="middle">10<tspan font-size="2.59" dy="-1.48">4</tspan></text>
<text x="420.30" y="248.56" font-size="4.6" text-anchor="middle" fill="#333" stroke="#333" stroke-width="0.04">GFP</text>
<line x1="475.50" y1="147.70" x2="475.50" y2="242.30" stroke="#151515" stroke-width="1.0"/>
<line x1="473.80" y1="242.50" x2="475.00" y2="242.50" stroke="#151515" stroke-width="0.8"/>
<text x="473.30" y="244.89" font-size="5.8" text-anchor="end" fill="#1e1e1e" stroke="#1e1e1e" stroke-width="0.12">0</text>
<line x1="473.80" y1="231.50" x2="475.00" y2="231.50" stroke="#151515" stroke-width="0.8"/>
<text x="473.30" y="234.42" font-size="5.8" text-anchor="end" fill="#1e1e1e" stroke="#1e1e1e" stroke-width="0.12">10</text>
<line x1="473.80" y1="221.50" x2="475.00" y2="221.50" stroke="#151515" stroke-width="0.8"/>
<text x="473.30" y="223.95" font-size="5.8" text-anchor="end" fill="#1e1e1e" stroke="#1e1e1e" stroke-width="0.12">20</text>
<line x1="473.80" y1="210.50" x2="475.00" y2="210.50" stroke="#151515" stroke-width="0.8"/>
<text x="473.30" y="213.49" font-size="5.8" text-anchor="end" fill="#1e1e1e" stroke="#1e1e1e" stroke-width="0.12">30</text>
<line x1="473.80" y1="200.50" x2="475.00" y2="200.50" stroke="#151515" stroke-width="0.8"/>
<text x="473.30" y="203.02" font-size="5.8" text-anchor="end" fill="#1e1e1e" stroke="#1e1e1e" stroke-width="0.12">40</text>
<line x1="473.80" y1="189.50" x2="475.00" y2="189.50" stroke="#151515" stroke-width="0.8"/>
<text x="473.30" y="192.55" font-size="5.8" text-anchor="end" fill="#1e1e1e" stroke="#1e1e1e" stroke-width="0.12">50</text>
<line x1="473.80" y1="179.50" x2="475.00" y2="179.50" stroke="#151515" stroke-width="0.8"/>
<text x="473.30" y="182.09" font-size="5.8" text-anchor="end" fill="#1e1e1e" stroke="#1e1e1e" stroke-width="0.12">60</text>
<line x1="473.80" y1="169.50" x2="475.00" y2="169.50" stroke="#151515" stroke-width="0.8"/>
<text x="473.30" y="171.62" font-size="5.8" text-anchor="end" fill="#1e1e1e" stroke="#1e1e1e" stroke-width="0.12">70</text>
<line x1="473.80" y1="158.50" x2="475.00" y2="158.50" stroke="#151515" stroke-width="0.8"/>
<text x="473.30" y="161.15" font-size="5.8" text-anchor="end" fill="#1e1e1e" stroke="#1e1e1e" stroke-width="0.12">80</text>
<line x1="473.80" y1="148.50" x2="475.00" y2="148.50" stroke="#151515" stroke-width="0.8"/>
<text x="473.30" y="150.69" font-size="5.8" text-anchor="end" fill="#1e1e1e" stroke="#1e1e1e" stroke-width="0.12">90</text>
<line x1="475.00" y1="242.50" x2="520.00" y2="242.50" stroke="#151515" stroke-width="1.0"/>
<rect x="482.50" y="175.50" width="15.00" height="67.00" fill="#fff" stroke="#2a2a2a" stroke-width="1.0"/>
<rect x="497.50" y="235.50" width="16.00" height="7.00" fill="url(#gd)" stroke="#111" stroke-width="1.0"/>
<line x1="490.50" y1="174.48" x2="490.50" y2="176.05" stroke="#1e1e1e" stroke-width="1.0"/>
<line x1="489.00" y1="174.50" x2="491.40" y2="174.50" stroke="#1e1e1e" stroke-width="1.0"/>
<line x1="489.00" y1="176.50" x2="491.40" y2="176.50" stroke="#1e1e1e" stroke-width="1.0"/>
<line x1="505.50" y1="231.21" x2="505.50" y2="235.18" stroke="#8a8a8a" stroke-width="1.0"/>
<line x1="504.60" y1="231.50" x2="507.00" y2="231.50" stroke="#333" stroke-width="1.0"/>
<line x1="505.50" y1="235.18" x2="505.50" y2="238.64" stroke="#1a1a1a" stroke-width="1.0"/>
<line x1="504.60" y1="238.50" x2="507.00" y2="238.50" stroke="#1a1a1a" stroke-width="1.0"/>
<text x="497.50" y="252.19" font-size="5.8" text-anchor="middle" fill="#1e1e1e" stroke="#1e1e1e" stroke-width="0.12">Treatment</text>
<text transform="translate(454.70,197.60) rotate(-90)" x="0" y="2.07" font-size="5.76" text-anchor="middle" fill="#1e1e1e" stroke="#1e1e1e" stroke-width="0.12">Avg. percentage of cells GFP positive</text>
<text transform="translate(460.50,197.50) rotate(-90)" x="0" y="1.80" font-size="5.0" text-anchor="middle" fill="#1e1e1e" stroke="#1e1e1e" stroke-width="0.04">Days 15, 19, and 22</text>
<rect x="479.50" y="147.50" width="3.00" height="2.00" fill="#fff" stroke="#333" stroke-width="0.6"/>
<text x="485.80" y="150.43" font-size="4.8" fill="#1e1e1e" stroke="#1e1e1e" stroke-width="0.04">Control-shRNA</text>
<rect x="479.70" y="156.10" width="3.20" height="1.90" fill="#111"/>
<text x="485.80" y="158.73" font-size="4.8" fill="#1e1e1e" stroke="#1e1e1e" stroke-width="0.04">IGF1R-shRNA</text>
<text x="487.60" y="168.90" font-size="5.0" fill="#2a2a2a" stroke="#2a2a2a" stroke-width="0.05" text-anchor="start"><tspan font-style="italic">P</tspan> < .001</text>
<text x="0.94" y="288.9" font-size="12" font-weight="bold" fill="#000">G</text>
<line x1="29.50" y1="298.80" x2="29.50" y2="393.50" stroke="#151515" stroke-width="1.0"/>
<line x1="27.20" y1="393.50" x2="29.20" y2="393.50" stroke="#151515" stroke-width="0.8"/>
<text x="25.40" y="396.16" font-size="6.0" text-anchor="end" fill="#1e1e1e" stroke="#1e1e1e" stroke-width="0.12">0</text>
<line x1="27.20" y1="380.50" x2="29.20" y2="380.50" stroke="#151515" stroke-width="0.8"/>
<text x="25.40" y="382.66" font-size="6.0" text-anchor="end" fill="#1e1e1e" stroke="#1e1e1e" stroke-width="0.12">500</text>
<line x1="27.20" y1="366.50" x2="29.20" y2="366.50" stroke="#151515" stroke-width="0.8"/>
<text x="25.40" y="369.16" font-size="6.0" text-anchor="end" fill="#1e1e1e" stroke="#1e1e1e" stroke-width="0.12">1000</text>
<line x1="27.20" y1="353.50" x2="29.20" y2="353.50" stroke="#151515" stroke-width="0.8"/>
<text x="25.40" y="355.66" font-size="6.0" text-anchor="end" fill="#1e1e1e" stroke="#1e1e1e" stroke-width="0.12">1500</text>
<line x1="27.20" y1="339.50" x2="29.20" y2="339.50" stroke="#151515" stroke-width="0.8"/>
<text x="25.40" y="342.16" font-size="6.0" text-anchor="end" fill="#1e1e1e" stroke="#1e1e1e" stroke-width="0.12">2000</text>
<line x1="27.20" y1="326.50" x2="29.20" y2="326.50" stroke="#151515" stroke-width="0.8"/>
<text x="25.40" y="328.66" font-size="6.0" text-anchor="end" fill="#1e1e1e" stroke="#1e1e1e" stroke-width="0.12">2500</text>
<line x1="27.20" y1="312.50" x2="29.20" y2="312.50" stroke="#151515" stroke-width="0.8"/>
<text x="25.40" y="315.16" font-size="6.0" text-anchor="end" fill="#1e1e1e" stroke="#1e1e1e" stroke-width="0.12">3000</text>
<line x1="27.20" y1="299.50" x2="29.20" y2="299.50" stroke="#151515" stroke-width="0.8"/>
<text x="25.40" y="301.66" font-size="6.0" text-anchor="end" fill="#1e1e1e" stroke="#1e1e1e" stroke-width="0.12">3500</text>
<line x1="29.20" y1="393.50" x2="136.50" y2="393.50" stroke="#151515" stroke-width="1.0"/>
<line x1="67.00" y1="393.50" x2="67.00" y2="395.30" stroke="#151515" stroke-width="0.7"/>
<line x1="99.20" y1="393.50" x2="99.20" y2="395.30" stroke="#151515" stroke-width="0.7"/>
<line x1="136.00" y1="393.50" x2="136.00" y2="395.30" stroke="#151515" stroke-width="0.7"/>
<line x1="29.20" y1="370.50" x2="134.00" y2="370.50" stroke="#222" stroke-width="1.0" stroke-dasharray="4,3.6"/>
<line x1="29.20" y1="377.50" x2="134.00" y2="377.50" stroke="#222" stroke-width="1.0" stroke-dasharray="0.9,0.5"/>
<rect x="41.50" y="339.50" width="10.00" height="54.00" fill="#fff" stroke="#666" stroke-width="1.0"/>
<rect x="51.50" y="309.50" width="9.00" height="84.00" fill="url(#gd)" stroke="#111" stroke-width="1.0"/>
<rect x="73.50" y="335.50" width="10.00" height="58.00" fill="#fff" stroke="#666" stroke-width="1.0"/>
<rect x="83.50" y="324.50" width="9.00" height="69.00" fill="url(#gd)" stroke="#111" stroke-width="1.0"/>
<rect x="106.50" y="382.50" width="9.00" height="11.00" fill="#fff" stroke="#444" stroke-width="1.0"/>
<rect x="115.50" y="382.50" width="9.00" height="11.00" fill="url(#gd)" stroke="#111" stroke-width="1.0"/>
<line x1="46.50" y1="325.46" x2="46.50" y2="353.54" stroke="#1e1e1e" stroke-width="1.0"/>
<line x1="45.50" y1="325.50" x2="48.10" y2="325.50" stroke="#1e1e1e" stroke-width="1.0"/>
<line x1="45.50" y1="353.50" x2="48.10" y2="353.50" stroke="#1e1e1e" stroke-width="1.0"/>
<line x1="56.50" y1="306.56" x2="56.50" y2="309.80" stroke="#8a8a8a" stroke-width="1.0"/>
<line x1="55.10" y1="306.50" x2="57.50" y2="306.50" stroke="#333" stroke-width="1.0"/>
<line x1="56.50" y1="309.80" x2="56.50" y2="312.50" stroke="#1a1a1a" stroke-width="1.0"/>
<line x1="55.10" y1="312.50" x2="57.50" y2="312.50" stroke="#1a1a1a" stroke-width="1.0"/>
<line x1="78.50" y1="329.24" x2="78.50" y2="343.55" stroke="#1e1e1e" stroke-width="1.0"/>
<line x1="77.10" y1="329.50" x2="79.70" y2="329.50" stroke="#1e1e1e" stroke-width="1.0"/>
<line x1="77.10" y1="343.50" x2="79.70" y2="343.50" stroke="#1e1e1e" stroke-width="1.0"/>
<line x1="88.50" y1="314.39" x2="88.50" y2="324.92" stroke="#8a8a8a" stroke-width="1.0"/>
<line x1="86.80" y1="314.50" x2="89.20" y2="314.50" stroke="#333" stroke-width="1.0"/>
<line x1="88.50" y1="324.92" x2="88.50" y2="335.45" stroke="#1a1a1a" stroke-width="1.0"/>
<line x1="86.80" y1="335.50" x2="89.20" y2="335.50" stroke="#1a1a1a" stroke-width="1.0"/>
<line x1="110.50" y1="379.46" x2="110.50" y2="385.40" stroke="#1e1e1e" stroke-width="1.0"/>
<line x1="109.40" y1="379.50" x2="112.00" y2="379.50" stroke="#1e1e1e" stroke-width="1.0"/>
<line x1="109.40" y1="385.50" x2="112.00" y2="385.50" stroke="#1e1e1e" stroke-width="1.0"/>
<line x1="119.50" y1="380.54" x2="119.50" y2="384.05" stroke="#1e1e1e" stroke-width="1.0"/>
<line x1="118.50" y1="380.50" x2="121.10" y2="380.50" stroke="#1e1e1e" stroke-width="1.0"/>
<line x1="118.50" y1="384.50" x2="121.10" y2="384.50" stroke="#1e1e1e" stroke-width="1.0"/>
<path d="M78.5,326.5 L78.5,295.5 L120.5,295.5 L120.5,375.5" fill="none" stroke="#4a4a4a" stroke-width="0.9" />
<path d="M78.5,301.5 L110.5,301.5 L110.5,375.5" fill="none" stroke="#4a4a4a" stroke-width="0.9" />
<text x="88.70" y="293.76" font-size="4.9" fill="#2a2a2a" stroke="#2a2a2a" stroke-width="0.05" text-anchor="start"><tspan font-style="italic">P</tspan> = .007</text>
<text x="84.20" y="301.06" font-size="4.9" fill="#2a2a2a" stroke="#2a2a2a" stroke-width="0.05" text-anchor="start"><tspan font-style="italic">P</tspan> = .005</text>
<text x="50.30" y="402.29" font-size="5.8" text-anchor="middle" fill="#1e1e1e" stroke="#1e1e1e" stroke-width="0.12">CM</text>
<text x="83.00" y="402.29" font-size="5.8" text-anchor="middle" fill="#1e1e1e" stroke="#1e1e1e" stroke-width="0.12">DMSO</text>
<text x="115.60" y="402.29" font-size="5.8" text-anchor="middle" fill="#1e1e1e" stroke="#1e1e1e" stroke-width="0.12">AG825</text>
<text x="82.10" y="410.19" font-size="5.8" text-anchor="middle" fill="#1e1e1e" stroke="#1e1e1e" stroke-width="0.12">Treatment</text>
<text transform="translate(5.20,346.00) rotate(-90)" x="0" y="2.09" font-size="5.8" text-anchor="middle" fill="#1e1e1e" stroke="#1e1e1e" stroke-width="0.12">Cell number (in thousands)</text>
<rect x="37.50" y="290.50" width="3.00" height="2.00" fill="#fff" stroke="#333" stroke-width="0.6"/>
<text x="41.60" y="292.96" font-size="4.9" fill="#1e1e1e" stroke="#1e1e1e" stroke-width="0.04">Exp. 1</text>
<rect x="37.10" y="297.80" width="2.90" height="1.90" fill="#111"/>
<text x="41.60" y="300.56" font-size="4.9" fill="#1e1e1e" stroke="#1e1e1e" stroke-width="0.04">Exp. 2</text>
<text x="133.5" y="288.6" font-size="12" font-weight="bold" fill="#000">H</text>
<rect x="203.70" y="302.30" width="64.70" height="90.00" fill="#f1f1f1"/>
<line x1="158.50" y1="302.30" x2="158.50" y2="392.30" stroke="#151515" stroke-width="1.0"/>
<line x1="156.10" y1="392.50" x2="158.10" y2="392.50" stroke="#151515" stroke-width="0.8"/>
<text x="152.30" y="394.89" font-size="5.8" text-anchor="end" fill="#1e1e1e" stroke="#1e1e1e" stroke-width="0.12">0</text>
<line x1="156.10" y1="377.50" x2="158.10" y2="377.50" stroke="#151515" stroke-width="0.8"/>
<text x="152.30" y="379.95" font-size="5.8" text-anchor="end" fill="#1e1e1e" stroke="#1e1e1e" stroke-width="0.12">5</text>
<line x1="156.10" y1="362.50" x2="158.10" y2="362.50" stroke="#151515" stroke-width="0.8"/>
<text x="152.30" y="365.02" font-size="5.8" text-anchor="end" fill="#1e1e1e" stroke="#1e1e1e" stroke-width="0.12">10</text>
<line x1="156.10" y1="347.50" x2="158.10" y2="347.50" stroke="#151515" stroke-width="0.8"/>
<text x="152.30" y="350.09" font-size="5.8" text-anchor="end" fill="#1e1e1e" stroke="#1e1e1e" stroke-width="0.12">15</text>
<line x1="156.10" y1="332.50" x2="158.10" y2="332.50" stroke="#151515" stroke-width="0.8"/>
<text x="152.30" y="335.15" font-size="5.8" text-anchor="end" fill="#1e1e1e" stroke="#1e1e1e" stroke-width="0.12">20</text>
<line x1="156.10" y1="317.50" x2="158.10" y2="317.50" stroke="#151515" stroke-width="0.8"/>
<text x="152.30" y="320.22" font-size="5.8" text-anchor="end" fill="#1e1e1e" stroke="#1e1e1e" stroke-width="0.12">25</text>
<line x1="156.10" y1="302.50" x2="158.10" y2="302.50" stroke="#151515" stroke-width="0.8"/>
<text x="152.30" y="305.29" font-size="5.8" text-anchor="end" fill="#1e1e1e" stroke="#1e1e1e" stroke-width="0.12">30</text>
<line x1="158.10" y1="392.50" x2="272.50" y2="392.50" stroke="#151515" stroke-width="1.0"/>
<rect x="165.50" y="321.50" width="11.00" height="71.00" fill="#fff" stroke="#444" stroke-width="1.0"/>
<rect x="185.50" y="317.50" width="11.00" height="75.00" fill="#fff" stroke="#444" stroke-width="1.0"/>
<rect x="210.50" y="321.50" width="11.00" height="71.00" fill="url(#g15)" stroke="#222" stroke-width="1.0"/>
<rect x="230.50" y="338.50" width="11.00" height="54.00" fill="url(#g25)" stroke="#111" stroke-width="1.0"/>
<rect x="250.50" y="359.50" width="12.00" height="33.00" fill="url(#g50)" stroke="#000" stroke-width="1.0"/>
<line x1="170.50" y1="319.72" x2="170.50" y2="323.31" stroke="#1e1e1e" stroke-width="1.0"/>
<line x1="169.60" y1="319.50" x2="172.20" y2="319.50" stroke="#1e1e1e" stroke-width="1.0"/>
<line x1="169.60" y1="323.50" x2="172.20" y2="323.50" stroke="#1e1e1e" stroke-width="1.0"/>
<line x1="191.50" y1="316.14" x2="191.50" y2="319.72" stroke="#1e1e1e" stroke-width="1.0"/>
<line x1="190.00" y1="316.50" x2="192.60" y2="316.50" stroke="#1e1e1e" stroke-width="1.0"/>
<line x1="190.00" y1="319.50" x2="192.60" y2="319.50" stroke="#1e1e1e" stroke-width="1.0"/>
<line x1="215.50" y1="317.63" x2="215.50" y2="321.22" stroke="#8a8a8a" stroke-width="1.0"/>
<line x1="214.60" y1="317.50" x2="217.00" y2="317.50" stroke="#333" stroke-width="1.0"/>
<line x1="215.50" y1="321.22" x2="215.50" y2="325.40" stroke="#1a1a1a" stroke-width="1.0"/>
<line x1="214.60" y1="325.50" x2="217.00" y2="325.50" stroke="#1a1a1a" stroke-width="1.0"/>
<line x1="236.50" y1="337.64" x2="236.50" y2="338.84" stroke="#1e1e1e" stroke-width="1.0"/>
<line x1="235.00" y1="337.50" x2="237.40" y2="337.50" stroke="#1e1e1e" stroke-width="1.0"/>
<line x1="235.00" y1="338.50" x2="237.40" y2="338.50" stroke="#1e1e1e" stroke-width="1.0"/>
<line x1="256.50" y1="357.95" x2="256.50" y2="360.64" stroke="#1e1e1e" stroke-width="1.0"/>
<line x1="255.10" y1="357.50" x2="257.50" y2="357.50" stroke="#1e1e1e" stroke-width="1.0"/>
<line x1="255.10" y1="360.50" x2="257.50" y2="360.50" stroke="#1e1e1e" stroke-width="1.0"/>
<path d="M191.5,310.5 L191.5,294.5 L256.5,294.5 L256.5,354.5" fill="none" stroke="#4a4a4a" stroke-width="0.9" />
<path d="M191.5,301.5 L236.5,301.5 L236.5,335.5" fill="none" stroke="#4a4a4a" stroke-width="0.9" />
<text x="213.20" y="292.96" font-size="4.9" fill="#2a2a2a" stroke="#2a2a2a" stroke-width="0.05" text-anchor="start"><tspan font-style="italic">P</tspan> = .001</text>
<text x="203.20" y="300.56" font-size="4.9" fill="#2a2a2a" stroke="#2a2a2a" stroke-width="0.05" text-anchor="start"><tspan font-style="italic">P</tspan> = .003</text>
<text x="170.90" y="401.49" font-size="5.8" text-anchor="middle" fill="#1e1e1e" stroke="#1e1e1e" stroke-width="0.12">CM</text>
<text x="191.30" y="401.49" font-size="5.8" text-anchor="middle" fill="#1e1e1e" stroke="#1e1e1e" stroke-width="0.12">DMSO</text>
<text x="215.80" y="401.49" font-size="5.8" text-anchor="middle" fill="#1e1e1e" stroke="#1e1e1e" stroke-width="0.12">15 μM</text>
<text x="236.60" y="401.49" font-size="5.8" text-anchor="middle" fill="#1e1e1e" stroke="#1e1e1e" stroke-width="0.12">25 μM</text>
<text x="257.00" y="401.49" font-size="5.8" text-anchor="middle" fill="#1e1e1e" stroke="#1e1e1e" stroke-width="0.12">50 μM</text>
<text x="212.10" y="412.49" font-size="5.8" text-anchor="middle" fill="#1e1e1e" stroke="#1e1e1e" stroke-width="0.12">Treatment</text>
<text transform="translate(140.70,346.80) rotate(-90)" x="0" y="2.03" font-size="5.63" text-anchor="middle" fill="#1e1e1e" stroke="#1e1e1e" stroke-width="0.12">Percentage of cells in G1</text>
<text x="279.5" y="288.8" font-size="12" font-weight="bold" fill="#000">I</text>
<rect x="316.50" y="298.80" width="6.70" height="38.50" fill="#a3a3a3"/>
<rect x="323.20" y="298.80" width="9.90" height="38.50" fill="#e6e6e6"/>
<rect x="333.10" y="298.80" width="6.70" height="38.50" fill="#a3a3a3"/>
<path d="M316.50,337.30 L316.50,337.42 L316.90,334.89 L317.30,332.77 L317.70,329.76 L318.10,326.72 L318.50,325.00 L318.90,321.98 L319.23,319.31 L319.57,316.65 L319.90,312.80 L320.20,311.88 L320.50,309.73 L320.80,308.49 L321.20,310.03 L321.60,313.44 L321.93,315.50 L322.27,318.41 L322.60,320.15 L323.00,322.03 L323.40,323.47 L323.80,324.42 L324.12,325.01 L324.43,325.98 L324.75,326.30 L325.07,325.66 L325.38,326.99 L325.70,327.17 L326.00,326.57 L326.30,327.20 L326.60,327.23 L326.90,327.21 L327.20,328.05 L327.50,328.80 L327.82,327.55 L328.13,327.92 L328.45,327.27 L328.77,326.09 L329.08,326.70 L329.40,325.94 L329.70,326.07 L330.00,325.45 L330.30,325.16 L330.60,324.28 L330.92,324.11 L331.23,323.47 L331.55,322.56 L331.87,321.15 L332.18,320.78 L332.50,319.58 L332.80,317.82 L333.10,316.49 L333.40,315.31 L333.70,314.25 L334.00,312.96 L334.30,312.20 L334.70,311.25 L335.10,309.79 L335.50,308.39 L335.82,309.33 L336.15,309.48 L336.48,310.33 L336.80,311.36 L337.20,313.73 L337.60,316.29 L338.00,320.16 L338.40,322.77 L338.80,325.15 L339.20,328.02 L339.52,329.64 L339.85,331.14 L340.18,332.01 L340.50,333.10 L340.80,333.79 L341.10,335.00 L341.40,334.50 L341.70,335.34 L342.00,335.37 L342.30,335.79 L342.62,335.91 L342.93,336.40 L343.25,336.24 L343.57,336.21 L343.88,336.49 L344.20,337.20  L344.20,337.30 Z" fill="#0a0a0a" />
<path d="M344.20,337.30 L346,336.40 L348,336.80 L350,336.30 L352,336.90 L354,336.50 L356.5,337.00 L357,337.3 Z" fill="#222" />
<text x="319.85" y="303.15" font-size="4.3" text-anchor="middle" fill="#2a2a2a" stroke="#2a2a2a" stroke-width="0.04">G1</text>
<text x="328.15" y="303.15" font-size="4.3" text-anchor="middle" fill="#2a2a2a" stroke="#2a2a2a" stroke-width="0.04">S</text>
<text x="336.45" y="303.15" font-size="4.3" text-anchor="middle" fill="#2a2a2a" stroke="#2a2a2a" stroke-width="0.04">G2</text>
<line x1="301.50" y1="298.80" x2="301.50" y2="337.30" stroke="#151515" stroke-width="0.9"/>
<line x1="301.50" y1="337.50" x2="357.70" y2="337.50" stroke="#151515" stroke-width="0.9"/>
<line x1="299.70" y1="337.30" x2="301.50" y2="337.30" stroke="#151515" stroke-width="0.7"/>
<text x="298.50" y="339.39" font-size="5.8" text-anchor="end" fill="#1e1e1e" stroke="#1e1e1e" stroke-width="0.12">0</text>
<line x1="300.40" y1="330.88" x2="301.50" y2="330.88" stroke="#151515" stroke-width="0.7"/>
<line x1="299.70" y1="324.47" x2="301.50" y2="324.47" stroke="#151515" stroke-width="0.7"/>
<text x="298.50" y="326.55" font-size="5.8" text-anchor="end" fill="#1e1e1e" stroke="#1e1e1e" stroke-width="0.12">20</text>
<line x1="300.40" y1="318.05" x2="301.50" y2="318.05" stroke="#151515" stroke-width="0.7"/>
<line x1="299.70" y1="311.63" x2="301.50" y2="311.63" stroke="#151515" stroke-width="0.7"/>
<text x="298.50" y="313.72" font-size="5.8" text-anchor="end" fill="#1e1e1e" stroke="#1e1e1e" stroke-width="0.12">40</text>
<line x1="300.40" y1="305.22" x2="301.50" y2="305.22" stroke="#151515" stroke-width="0.7"/>
<line x1="299.70" y1="298.80" x2="301.50" y2="298.80" stroke="#151515" stroke-width="0.7"/>
<text x="298.50" y="300.89" font-size="5.8" text-anchor="end" fill="#1e1e1e" stroke="#1e1e1e" stroke-width="0.12">60</text>
<line x1="302.20" y1="337.30" x2="302.20" y2="338.90" stroke="#151515" stroke-width="0.7"/>
<text x="302.20" y="345.99" font-size="5.8" text-anchor="middle" fill="#1e1e1e" stroke="#1e1e1e" stroke-width="0.12">0</text>
<line x1="309.05" y1="337.30" x2="309.05" y2="338.30" stroke="#151515" stroke-width="0.7"/>
<line x1="315.90" y1="337.30" x2="315.90" y2="338.90" stroke="#151515" stroke-width="0.7"/>
<text x="315.90" y="345.99" font-size="5.8" text-anchor="middle" fill="#1e1e1e" stroke="#1e1e1e" stroke-width="0.12">200</text>
<line x1="322.75" y1="337.30" x2="322.75" y2="338.30" stroke="#151515" stroke-width="0.7"/>
<line x1="329.60" y1="337.30" x2="329.60" y2="338.90" stroke="#151515" stroke-width="0.7"/>
<text x="329.60" y="345.99" font-size="5.8" text-anchor="middle" fill="#1e1e1e" stroke="#1e1e1e" stroke-width="0.12">400</text>
<line x1="336.45" y1="337.30" x2="336.45" y2="338.30" stroke="#151515" stroke-width="0.7"/>
<line x1="343.30" y1="337.30" x2="343.30" y2="338.90" stroke="#151515" stroke-width="0.7"/>
<text x="343.30" y="345.99" font-size="5.8" text-anchor="middle" fill="#1e1e1e" stroke="#1e1e1e" stroke-width="0.12">600</text>
<line x1="350.15" y1="337.30" x2="350.15" y2="338.30" stroke="#151515" stroke-width="0.7"/>
<line x1="357.00" y1="337.30" x2="357.00" y2="338.90" stroke="#151515" stroke-width="0.7"/>
<text x="357.00" y="345.99" font-size="5.8" text-anchor="middle" fill="#1e1e1e" stroke="#1e1e1e" stroke-width="0.12">800</text>
<text transform="translate(286.20,317.65) rotate(-90)" x="0" y="2.12" font-size="5.9" text-anchor="middle" fill="#1e1e1e" stroke="#1e1e1e" stroke-width="0.12">Counts</text>
<text x="346.80" y="319.49" font-size="5.8" fill="#1e1e1e" stroke="#1e1e1e" stroke-width="0.12">DMSO</text>
<rect x="314.00" y="353.60" width="7.60" height="38.80" fill="#a3a3a3"/>
<rect x="321.60" y="353.60" width="8.20" height="38.80" fill="#e6e6e6"/>
<rect x="329.80" y="353.60" width="7.80" height="38.80" fill="#a3a3a3"/>
<path d="M314.60,392.40 L314.60,391.94 L314.92,391.89 L315.23,390.78 L315.55,390.23 L315.87,390.33 L316.18,389.77 L316.50,389.68 L316.90,387.54 L317.30,386.80 L317.70,385.56 L318.10,382.97 L318.50,382.22 L318.90,379.11 L319.20,378.03 L319.50,377.66 L319.95,378.78 L320.40,380.97 L320.73,381.82 L321.07,382.74 L321.40,383.87 L321.70,384.82 L322.00,384.19 L322.30,384.90 L322.60,384.45 L322.92,385.19 L323.23,384.39 L323.55,384.40 L323.87,384.51 L324.18,385.36 L324.50,385.18 L324.80,385.00 L325.10,384.86 L325.40,385.91 L325.70,386.52 L326.00,386.21 L326.30,385.61 L326.70,384.61 L327.10,383.66 L327.50,382.74 L327.82,382.05 L328.13,381.58 L328.45,381.92 L328.77,381.76 L329.08,380.28 L329.40,380.86 L329.70,379.24 L330.00,378.78 L330.30,378.01 L330.60,377.12 L331.00,373.78 L331.40,372.09 L331.80,370.45 L332.12,369.85 L332.45,367.57 L332.78,366.79 L333.10,366.49 L333.70,363.66 L334.00,366.71 L334.30,369.30 L334.60,372.45 L335.05,376.80 L335.50,379.74 L335.82,382.24 L336.15,383.93 L336.48,385.77 L336.80,387.07 L337.20,388.79 L337.60,389.21 L338.00,390.48 L338.40,390.75 L338.80,392.06 L339.20,392.17 L339.60,391.98 L340.00,392.40  L340.00,392.40 Z" fill="#0a0a0a" />
<path d="M340.00,392.40 L346,391.50 L348,391.90 L350,391.40 L352,392.00 L354,391.60 L356.5,392.10 L357,392.4 Z" fill="#222" />
<text x="317.80" y="357.95" font-size="4.3" text-anchor="middle" fill="#2a2a2a" stroke="#2a2a2a" stroke-width="0.04">G1</text>
<text x="325.70" y="357.95" font-size="4.3" text-anchor="middle" fill="#2a2a2a" stroke="#2a2a2a" stroke-width="0.04">S</text>
<text x="333.70" y="357.95" font-size="4.3" text-anchor="middle" fill="#2a2a2a" stroke="#2a2a2a" stroke-width="0.04">G2</text>
<line x1="301.50" y1="353.60" x2="301.50" y2="392.40" stroke="#151515" stroke-width="0.9"/>
<line x1="301.90" y1="392.50" x2="357.70" y2="392.50" stroke="#151515" stroke-width="0.9"/>
<line x1="300.10" y1="392.40" x2="301.90" y2="392.40" stroke="#151515" stroke-width="0.7"/>
<text x="298.90" y="394.49" font-size="5.8" text-anchor="end" fill="#1e1e1e" stroke="#1e1e1e" stroke-width="0.12">0</text>
<line x1="300.80" y1="385.93" x2="301.90" y2="385.93" stroke="#151515" stroke-width="0.7"/>
<line x1="300.10" y1="379.47" x2="301.90" y2="379.47" stroke="#151515" stroke-width="0.7"/>
<text x="298.90" y="381.55" font-size="5.8" text-anchor="end" fill="#1e1e1e" stroke="#1e1e1e" stroke-width="0.12">20</text>
<line x1="300.80" y1="373.00" x2="301.90" y2="373.00" stroke="#151515" stroke-width="0.7"/>
<line x1="300.10" y1="366.53" x2="301.90" y2="366.53" stroke="#151515" stroke-width="0.7"/>
<text x="298.90" y="368.62" font-size="5.8" text-anchor="end" fill="#1e1e1e" stroke="#1e1e1e" stroke-width="0.12">40</text>
<line x1="300.80" y1="360.07" x2="301.90" y2="360.07" stroke="#151515" stroke-width="0.7"/>
<line x1="300.10" y1="353.60" x2="301.90" y2="353.60" stroke="#151515" stroke-width="0.7"/>
<text x="298.90" y="355.69" font-size="5.8" text-anchor="end" fill="#1e1e1e" stroke="#1e1e1e" stroke-width="0.12">60</text>
<line x1="302.20" y1="392.40" x2="302.20" y2="394.00" stroke="#151515" stroke-width="0.7"/>
<text x="302.20" y="401.09" font-size="5.8" text-anchor="middle" fill="#1e1e1e" stroke="#1e1e1e" stroke-width="0.12">0</text>
<line x1="309.05" y1="392.40" x2="309.05" y2="393.40" stroke="#151515" stroke-width="0.7"/>
<line x1="315.90" y1="392.40" x2="315.90" y2="394.00" stroke="#151515" stroke-width="0.7"/>
<text x="315.90" y="401.09" font-size="5.8" text-anchor="middle" fill="#1e1e1e" stroke="#1e1e1e" stroke-width="0.12">200</text>
<line x1="322.75" y1="392.40" x2="322.75" y2="393.40" stroke="#151515" stroke-width="0.7"/>
<line x1="329.60" y1="392.40" x2="329.60" y2="394.00" stroke="#151515" stroke-width="0.7"/>
<text x="329.60" y="401.09" font-size="5.8" text-anchor="middle" fill="#1e1e1e" stroke="#1e1e1e" stroke-width="0.12">400</text>
<line x1="336.45" y1="392.40" x2="336.45" y2="393.40" stroke="#151515" stroke-width="0.7"/>
<line x1="343.30" y1="392.40" x2="343.30" y2="394.00" stroke="#151515" stroke-width="0.7"/>
<text x="343.30" y="401.09" font-size="5.8" text-anchor="middle" fill="#1e1e1e" stroke="#1e1e1e" stroke-width="0.12">600</text>
<line x1="350.15" y1="392.40" x2="350.15" y2="393.40" stroke="#151515" stroke-width="0.7"/>
<line x1="357.00" y1="392.40" x2="357.00" y2="394.00" stroke="#151515" stroke-width="0.7"/>
<text x="357.00" y="401.09" font-size="5.8" text-anchor="middle" fill="#1e1e1e" stroke="#1e1e1e" stroke-width="0.12">800</text>
<text transform="translate(286.20,372.60) rotate(-90)" x="0" y="2.12" font-size="5.9" text-anchor="middle" fill="#1e1e1e" stroke="#1e1e1e" stroke-width="0.12">Counts</text>
<text x="346.80" y="373.39" font-size="5.8" fill="#1e1e1e" stroke="#1e1e1e" stroke-width="0.12">50 μM</text>
<text x="346.80" y="380.79" font-size="5.8" fill="#1e1e1e" stroke="#1e1e1e" stroke-width="0.12">AG825</text>
<text x="329.90" y="409.69" font-size="5.8" text-anchor="middle" fill="#1e1e1e" stroke="#1e1e1e" stroke-width="0.12">PI</text>
<text x="373.3" y="288.6" font-size="12" font-weight="bold" fill="#000">J</text>
<rect x="441.50" y="302.30" width="65.50" height="89.70" fill="#f1f1f1"/>
<line x1="395.50" y1="302.30" x2="395.50" y2="392.00" stroke="#151515" stroke-width="1.0"/>
<line x1="393.30" y1="392.50" x2="395.30" y2="392.50" stroke="#151515" stroke-width="0.8"/>
<text x="390.90" y="394.59" font-size="5.8" text-anchor="end" fill="#1e1e1e" stroke="#1e1e1e" stroke-width="0.12">0</text>
<line x1="393.30" y1="379.50" x2="395.30" y2="379.50" stroke="#151515" stroke-width="0.8"/>
<text x="390.90" y="381.85" font-size="5.8" text-anchor="end" fill="#1e1e1e" stroke="#1e1e1e" stroke-width="0.12">5</text>
<line x1="393.30" y1="366.50" x2="395.30" y2="366.50" stroke="#151515" stroke-width="0.8"/>
<text x="390.90" y="369.10" font-size="5.8" text-anchor="end" fill="#1e1e1e" stroke="#1e1e1e" stroke-width="0.12">10</text>
<line x1="393.30" y1="353.50" x2="395.30" y2="353.50" stroke="#151515" stroke-width="0.8"/>
<text x="390.90" y="356.36" font-size="5.8" text-anchor="end" fill="#1e1e1e" stroke="#1e1e1e" stroke-width="0.12">15</text>
<line x1="393.30" y1="341.50" x2="395.30" y2="341.50" stroke="#151515" stroke-width="0.8"/>
<text x="390.90" y="343.62" font-size="5.8" text-anchor="end" fill="#1e1e1e" stroke="#1e1e1e" stroke-width="0.12">20</text>
<line x1="393.30" y1="328.50" x2="395.30" y2="328.50" stroke="#151515" stroke-width="0.8"/>
<text x="390.90" y="330.87" font-size="5.8" text-anchor="end" fill="#1e1e1e" stroke="#1e1e1e" stroke-width="0.12">25</text>
<line x1="393.30" y1="315.50" x2="395.30" y2="315.50" stroke="#151515" stroke-width="0.8"/>
<text x="390.90" y="318.13" font-size="5.8" text-anchor="end" fill="#1e1e1e" stroke="#1e1e1e" stroke-width="0.12">30</text>
<line x1="393.30" y1="302.50" x2="395.30" y2="302.50" stroke="#151515" stroke-width="0.8"/>
<text x="390.90" y="305.39" font-size="5.8" text-anchor="end" fill="#1e1e1e" stroke="#1e1e1e" stroke-width="0.12">35</text>
<line x1="395.30" y1="392.50" x2="507.50" y2="392.50" stroke="#151515" stroke-width="1.0"/>
<rect x="402.50" y="386.50" width="11.00" height="6.00" fill="#fff" stroke="#444" stroke-width="1.0"/>
<rect x="423.50" y="381.50" width="11.00" height="11.00" fill="#fff" stroke="#444" stroke-width="1.0"/>
<rect x="447.50" y="379.50" width="11.00" height="13.00" fill="url(#g15)" stroke="#222" stroke-width="1.0"/>
<rect x="468.50" y="363.50" width="10.00" height="29.00" fill="url(#g25)" stroke="#111" stroke-width="1.0"/>
<rect x="488.50" y="327.50" width="11.00" height="65.00" fill="url(#g50)" stroke="#000" stroke-width="1.0"/>
<line x1="408.50" y1="383.84" x2="408.50" y2="388.69" stroke="#1e1e1e" stroke-width="1.0"/>
<line x1="406.90" y1="383.50" x2="409.30" y2="383.50" stroke="#1e1e1e" stroke-width="1.0"/>
<line x1="406.90" y1="388.50" x2="409.30" y2="388.50" stroke="#1e1e1e" stroke-width="1.0"/>
<line x1="428.50" y1="378.75" x2="428.50" y2="384.86" stroke="#1e1e1e" stroke-width="1.0"/>
<line x1="427.60" y1="378.50" x2="430.00" y2="378.50" stroke="#1e1e1e" stroke-width="1.0"/>
<line x1="427.60" y1="384.50" x2="430.00" y2="384.50" stroke="#1e1e1e" stroke-width="1.0"/>
<line x1="452.50" y1="377.22" x2="452.50" y2="381.81" stroke="#1e1e1e" stroke-width="1.0"/>
<line x1="451.50" y1="377.50" x2="453.90" y2="377.50" stroke="#1e1e1e" stroke-width="1.0"/>
<line x1="451.50" y1="381.50" x2="453.90" y2="381.50" stroke="#1e1e1e" stroke-width="1.0"/>
<line x1="473.50" y1="360.14" x2="473.50" y2="363.71" stroke="#8a8a8a" stroke-width="1.0"/>
<line x1="472.40" y1="360.50" x2="474.40" y2="360.50" stroke="#333" stroke-width="1.0"/>
<line x1="473.50" y1="363.71" x2="473.50" y2="367.28" stroke="#1a1a1a" stroke-width="1.0"/>
<line x1="472.40" y1="367.50" x2="474.40" y2="367.50" stroke="#1a1a1a" stroke-width="1.0"/>
<line x1="493.50" y1="315.54" x2="493.50" y2="327.52" stroke="#8a8a8a" stroke-width="1.0"/>
<line x1="492.80" y1="315.50" x2="494.80" y2="315.50" stroke="#333" stroke-width="1.0"/>
<line x1="493.50" y1="327.52" x2="493.50" y2="339.75" stroke="#1a1a1a" stroke-width="1.0"/>
<line x1="492.80" y1="339.50" x2="494.80" y2="339.50" stroke="#1a1a1a" stroke-width="1.0"/>
<path d="M428.5,373.5 L428.5,294.5 L492.5,294.5 L492.5,310.5" fill="none" stroke="#4a4a4a" stroke-width="0.9" />
<path d="M428.5,301.5 L472.5,301.5 L472.5,353.5" fill="none" stroke="#4a4a4a" stroke-width="0.9" />
<text x="450.30" y="292.66" font-size="4.9" fill="#2a2a2a" stroke="#2a2a2a" stroke-width="0.05" text-anchor="start"><tspan font-style="italic">P</tspan> = .013</text>
<text x="441.80" y="299.96" font-size="4.9" fill="#2a2a2a" stroke="#2a2a2a" stroke-width="0.05" text-anchor="start"><tspan font-style="italic">P</tspan> = .03</text>
<text x="408.50" y="401.69" font-size="5.8" text-anchor="middle" fill="#1e1e1e" stroke="#1e1e1e" stroke-width="0.12">CM</text>
<text x="429.20" y="401.69" font-size="5.8" text-anchor="middle" fill="#1e1e1e" stroke="#1e1e1e" stroke-width="0.12">DMSO</text>
<text x="453.20" y="401.69" font-size="5.8" text-anchor="middle" fill="#1e1e1e" stroke="#1e1e1e" stroke-width="0.12">15 μM</text>
<text x="474.00" y="401.69" font-size="5.8" text-anchor="middle" fill="#1e1e1e" stroke="#1e1e1e" stroke-width="0.12">25 μM</text>
<text x="494.20" y="401.69" font-size="5.8" text-anchor="middle" fill="#1e1e1e" stroke="#1e1e1e" stroke-width="0.12">50 μM</text>
<text x="452.80" y="413.39" font-size="5.8" text-anchor="middle" fill="#1e1e1e" stroke="#1e1e1e" stroke-width="0.12">Treatment</text>
<text transform="translate(378.80,347.10) rotate(-90)" x="0" y="2.06" font-size="5.72" text-anchor="middle" fill="#1e1e1e" stroke="#1e1e1e" stroke-width="0.12">Percentage of cells apoptotic</text>
</svg></body></html>
